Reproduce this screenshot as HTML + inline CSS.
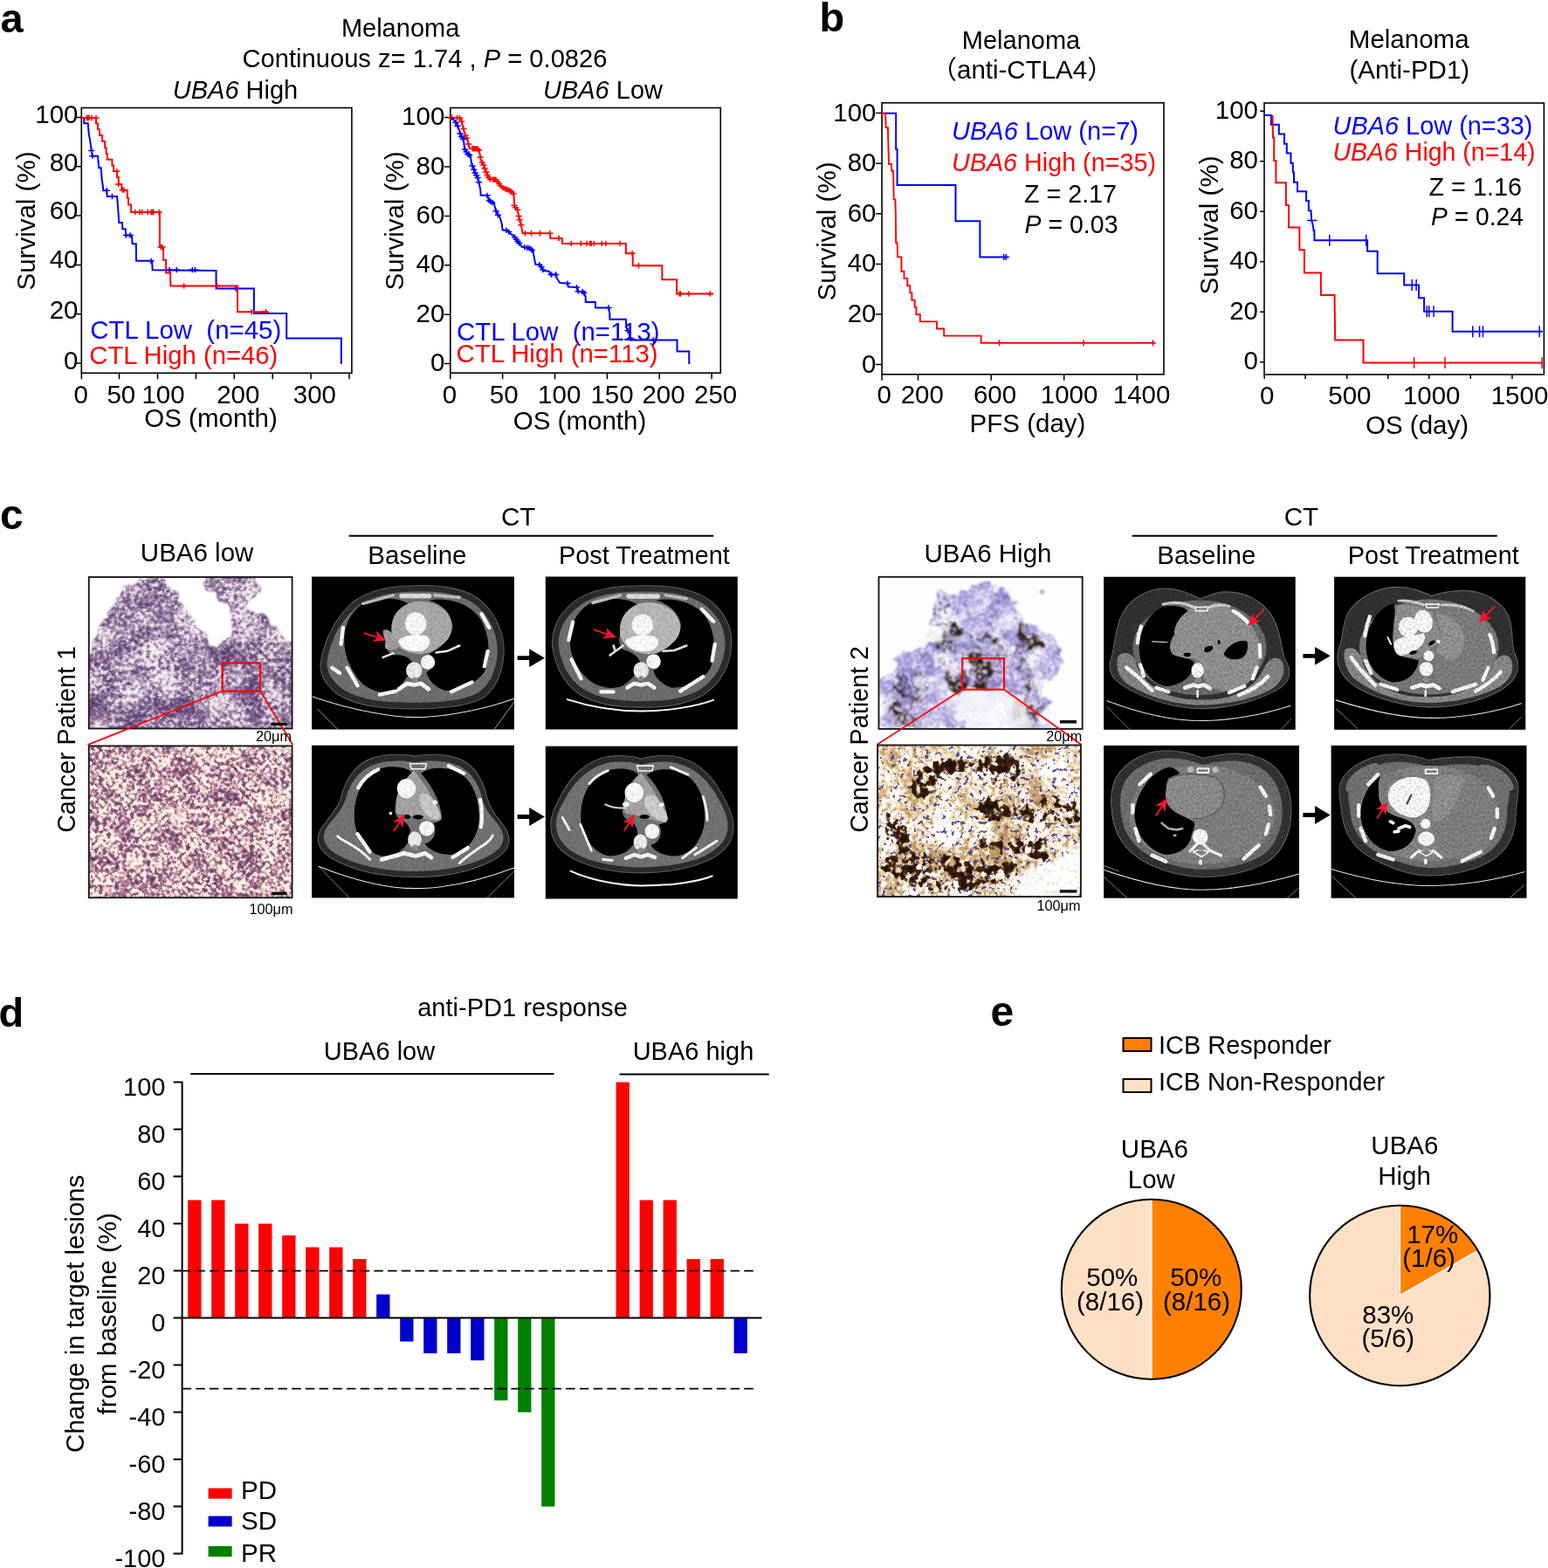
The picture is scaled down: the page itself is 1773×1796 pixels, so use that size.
<!DOCTYPE html>
<html lang="en"><head><meta charset="utf-8"><title>Figure</title>
<style>html,body{margin:0;padding:0;background:#fff}body{width:1773px;height:1796px;overflow:hidden}svg{display:block}</style>
</head><body>
<svg width="1773" height="1796" viewBox="0 0 1773 1796" font-family='"Liberation Sans", "Noto Sans CJK SC", sans-serif' font-size="29.5" fill="#000">
<text x="0.5" y="37" font-size="47" font-weight="bold">a</text>
<text x="938.5" y="35.5" font-size="47" font-weight="bold">b</text>
<text x="458.6" y="42" font-size="29" text-anchor="middle">Melanoma</text>
<text x="277.5" y="76.8" textLength="418" lengthAdjust="spacingAndGlyphs">Continuous z= 1.74 , <tspan font-style="italic">P</tspan> = 0.0826</text>
<rect x="93.3" y="123.5" width="309.6" height="303.8" fill="none" stroke="#000" stroke-width="1.6"/>
<path d="M93.4 427.3v7M136.5 427.3v7M180.5 427.3v7M224.4 427.3v7M268.3 427.3v7M312.2 427.3v7M356.1 427.3v7M400 427.3v7M93.3 134.5h-7M93.3 190.8h-7M93.3 247.1h-7M93.3 303.4h-7M93.3 359.7h-7M93.3 416h-7" stroke="#000" stroke-width="1.5" fill="none"/>
<path d="M93.12 134.97 L96.28 134.97 L96.28 141.17 L100.79 141.17 L101.69 153.35 L103.05 160.12 L104.74 172.53 L105.87 178.73 L112.07 178.73 L113.2 192.27 L115.68 192.27 L116.58 204.11 L117.71 212.01 L118.28 218.21 L122.23 218.21 L122.79 224.98 L134.07 224.98 L135.2 239.08 L136.33 254.88 L139.94 254.88 L140.27 262.21 L143.66 262.21 L144.22 269.54 L150.99 269.54 L151.55 279.13 L155.84 279.13 L156.07 298.87 L174.11 298.87 L174.68 309.25 L247.56 309.97 L247.56 330.61 L290.88 330.61 L290.88 359.04 L328.22 359.04 L328.22 387.57 L390.82 387.57 L390.82 416.9" stroke="#0000ff" stroke-width="2" fill="none" stroke-linejoin="miter"/><path d="M104.74 169.33V175.73M101.14 172.53H108.34M105.87 175.53V181.93M102.27 178.73H109.47M122.23 215.01V221.41M118.63 218.21H125.83M128.43 221.78V228.18M124.83 224.98H132.03M144.22 266.34V272.74M140.62 269.54H147.82M149.07 266.34V272.74M145.47 269.54H152.67M172.99 295.67V302.07M169.39 298.87H176.59M194.16 305.84V312.24M190.56 309.04H197.76M202.28 305.84V312.24M198.68 309.04H205.88M220.3 305.84V312.24M216.7 309.04H223.9M223.35 305.84V312.24M219.75 309.04H226.95M270.3 327.41V333.81M266.7 330.61H273.9" stroke="#0000ff" stroke-width="1.5" fill="none"/>
<path d="M93.12 134.97 L110.04 134.97 L110.04 141.51 L112.07 141.51 L112.07 148.28 L114.1 148.28 L114.1 155.05 L117.15 155.05 L117.15 161.81 L120.19 161.81 L120.19 169.15 L121.66 169.15 L121.66 175.91 L122.79 175.91 L122.79 182.68 L128.43 182.68 L128.43 189.45 L130.12 189.45 L130.12 196.22 L134.07 196.22 L134.07 202.99 L135.76 202.99 L135.76 210.88 L139.37 210.88 L139.37 217.65 L145.91 217.65 L145.91 226.68 L147.04 226.68 L147.04 234.57 L150.2 234.57 L150.2 243.03 L182.91 243.03 L182.91 283.08 L187.09 283.08 L187.09 297.74 L190.13 297.74 L190.13 312.41 L194.98 312.41 L195.43 327.56 L272.08 327.56 L272.08 357.26 L307.11 357.26" stroke="#ff0000" stroke-width="2" fill="none" stroke-linejoin="miter"/><path d="M99.33 131.77V138.17M95.73 134.97H102.93M100.79 131.77V138.17M97.19 134.97H104.39M102.15 131.77V138.17M98.55 134.97H105.75M105.08 131.77V138.17M101.48 134.97H108.68M110.04 131.77V138.17M106.44 134.97H113.64M133.73 193.02V199.42M130.13 196.22H137.33M135.76 207.68V214.08M132.16 210.88H139.36M140.27 214.45V220.85M136.67 217.65H143.87M141.97 214.45V220.85M138.37 217.65H145.57M154.71 239.83V246.23M151.11 243.03H158.31M160.01 239.83V246.23M156.41 243.03H163.61M162.61 239.83V246.23M159.01 243.03H166.21M169.04 239.83V246.23M165.44 243.03H172.64M172.99 239.83V246.23M169.39 243.03H176.59M174.45 239.83V246.23M170.85 243.03H178.05M175.81 239.83V246.23M172.21 243.03H179.41M182.01 239.83V246.23M178.41 243.03H185.61M184.27 279.88V286.28M180.67 283.08H187.87M185.96 279.88V286.28M182.36 283.08H189.56M210.66 324.36V330.76M207.06 327.56H214.26M248.73 324.36V330.76M245.13 327.56H252.33M288.07 354.06V360.46M284.47 357.26H291.67M304.57 354.06V360.46M300.97 357.26H308.17" stroke="#ff0000" stroke-width="1.5" fill="none"/>
<text x="89.5" y="140.7" text-anchor="end">100</text>
<text x="89.5" y="195.6" text-anchor="end">80</text>
<text x="89.5" y="251.4" text-anchor="end">60</text>
<text x="89.5" y="306.7" text-anchor="end">40</text>
<text x="89.5" y="365" text-anchor="end">20</text>
<text x="89.5" y="422.7" text-anchor="end">0</text>
<text x="92.6" y="461.5" text-anchor="middle">0</text>
<text x="138.8" y="461.5" text-anchor="middle">50</text>
<text x="187" y="461.5" text-anchor="middle">100</text>
<text x="272.8" y="461.5" text-anchor="middle">200</text>
<text x="360.4" y="461.5" text-anchor="middle">300</text>
<text x="241.5" y="488.6" text-anchor="middle">OS (month)</text>
<text transform="translate(40.3 253) rotate(-90)" text-anchor="middle">Survival (%)</text>
<text x="103.3" y="388.2" fill="#0000ff" textLength="219" lengthAdjust="spacingAndGlyphs">CTL Low  (n=45)</text>
<text x="102.3" y="417.4" fill="#ff0000" textLength="216" lengthAdjust="spacingAndGlyphs">CTL High (n=46)</text>
<text x="269.5" y="113" font-size="29" text-anchor="middle"><tspan font-style="italic">UBA6</tspan> High</text>
<rect x="515.8" y="123.5" width="309.5" height="303.7" fill="none" stroke="#000" stroke-width="1.6"/>
<path d="M515.8 427.2v7M575.66 427.2v7M635.52 427.2v7M695.38 427.2v7M755.24 427.2v7M815.1 427.2v7M515.8 134.6h-7M515.8 191h-7M515.8 247.4h-7M515.8 303.8h-7M515.8 360.2h-7M515.8 416.6h-7" stroke="#000" stroke-width="1.5" fill="none"/>
<path d="M515.72 134.74 L527.56 135.08 L529.25 141.17 L532.64 153.92 L535.46 160.12 L537.71 170.05 L547.87 170.5 L549.22 174.79 L550.69 183.25 L553.51 188.32 L555.76 194.53 L558.58 201.29 L560.84 205.24 L568.17 205.81 L572.68 212.01 L574.94 214.83 L583.96 218.21 L588.47 222.16 L589.04 235.14 L592.42 240.21 L594.68 249.8 L596.93 257.7 L598.63 267.28 L630.21 267.28 L630.44 272.92 L643.75 272.92 L643.97 278.56 L644.17 278.92 L716.86 278.92 L716.86 290.2 L724.75 290.2 L724.75 304.3 L758.37 304.3 L758.37 320.32 L775.18 320.32 L775.18 336.45 L816.69 336.45" stroke="#ff0000" stroke-width="2" fill="none" stroke-linejoin="miter"/><path d="M516.28 131.56V137.96M512.68 134.76H519.88M517.41 131.59V137.99M513.81 134.79H521.01M523.61 131.77V138.17M520.01 134.97H527.21M526.43 131.85V138.25M522.83 135.05H530.03M528.69 135.94V142.34M525.09 139.14H532.29M530.94 144.34V150.74M527.34 147.54H534.54M533.2 151.96V158.36M529.6 155.16H536.8M534.55 154.94V161.34M530.95 158.14H538.15M536.58 161.88V168.28M532.98 165.08H540.18M541.1 167V173.4M537.5 170.2H544.7M542.56 167.06V173.46M538.96 170.26H546.16M543.92 167.12V173.52M540.32 170.32H547.52M545.61 167.2V173.6M542.01 170.4H549.21M546.96 167.26V173.66M543.36 170.46H550.56M548.43 169.09V175.49M544.83 172.29H552.03M550.12 176.79V183.19M546.52 179.99H553.72M552.15 182.69V189.09M548.55 185.89H555.75M553.73 185.74V192.14M550.13 188.94H557.33M555.2 189.78V196.18M551.6 192.98H558.8M556.89 194.03V200.43M553.29 197.23H560.49M558.24 197.28V203.68M554.64 200.48H561.84M559.71 200.07V206.47M556.11 203.27H563.31M561.4 202.09V208.49M557.8 205.29H565M564.79 202.35V208.75M561.19 205.55H568.39M566.48 202.48V208.88M562.88 205.68H570.08M567.94 202.59V208.99M564.34 205.79H571.54M569.86 204.93V211.33M566.26 208.13H573.46M571.55 207.26V213.66M567.95 210.46H575.15M573.25 209.52V215.92M569.65 212.72H576.85M576.07 212.05V218.45M572.47 215.25H579.67M578.32 212.9V219.3M574.72 216.1H581.92M580.01 213.53V219.93M576.41 216.73H583.61M581.71 214.17V220.57M578.11 217.37H585.31M583.96 215.01V221.41M580.36 218.21H587.56M585.65 216.5V222.9M582.05 219.7H589.25M587.91 218.47V224.87M584.31 221.67H591.51M589.04 231.94V238.34M585.44 235.14H592.64M590.73 234.47V240.87M587.13 237.67H594.33M592.42 237.01V243.41M588.82 240.21H596.02M594.11 244.2V250.6M590.51 247.4H597.71M595.24 248.57V254.97M591.64 251.77H598.84M596.93 254.5V260.9M593.33 257.7H600.53M601.45 264.08V270.48M597.85 267.28H605.05M608.55 264.08V270.48M604.95 267.28H612.15M618.37 264.08V270.48M614.77 267.28H621.97M629.99 264.08V270.48M626.39 267.28H633.59M639.8 269.72V276.12M636.2 272.92H643.4M640.15 269.72V276.12M636.55 272.92H643.75M654.25 275.72V282.12M650.65 278.92H657.85M665.31 275.72V282.12M661.71 278.92H668.91M671.96 275.72V282.12M668.36 278.92H675.56M675.69 275.72V282.12M672.09 278.92H679.29M677.15 275.72V282.12M673.55 278.92H680.75M680.42 275.72V282.12M676.82 278.92H684.02M689.22 275.72V282.12M685.62 278.92H692.82M693.96 275.72V282.12M690.36 278.92H697.56M710.09 275.72V282.12M706.49 278.92H713.69M724.19 287V293.4M720.59 290.2H727.79M731.52 301.1V307.5M727.92 304.3H735.12M778.34 333.25V339.65M774.74 336.45H781.94M779.46 333.25V339.65M775.86 336.45H783.06M788.71 333.25V339.65M785.11 336.45H792.31M813.31 333.25V339.65M809.71 336.45H816.91" stroke="#ff0000" stroke-width="1.5" fill="none"/>
<path d="M515.72 134.74 L519.66 137 L523.61 142.64 L525.87 148.84 L527.56 155.05 L530.94 160.12 L532.07 170.27 L535.46 176.48 L538.84 178.17 L539.97 187.19 L542.23 192.83 L544.48 198.47 L547.3 204.11 L548.43 208.63 L550.12 216.52 L550.69 223.86 L558.02 223.86 L560.27 229.5 L565.91 233.44 L567.61 240.21 L569.3 244.72 L572.68 249.24 L574.94 257.13 L575.5 263.34 L581.71 263.9 L583.96 267.28 L588.47 270.1 L591.86 275.18 L595.24 279.13 L597.5 282.51 L606.52 284.2 L610.47 287.59 L613.29 302.82 L618.93 303.38 L622.32 310.15 L629.08 310.71 L630 314.45 L636.77 314.45 L637.9 318.96 L641.28 324.04 L650.3 324.6 L650.87 328.55 L660.46 329.11 L662.15 333.63 L668.35 334.19 L670.61 339.83 L670.83 346.03 L681.89 346.03 L681.89 352.46 L697.12 352.46 L698.25 358.44 L698.47 365.78 L716.86 365.78 L717.42 375.36 L720.24 381 L722.5 389.46 L775.52 389.46 L775.52 402.44 L789.28 402.44 L789.28 417.1" stroke="#0000ff" stroke-width="2" fill="none" stroke-linejoin="miter"/><path d="M521.92 137.02V143.42M518.32 140.22H525.52M524.18 140.99V147.39M520.58 144.19H527.78M527 149.78V156.18M523.4 152.98H530.6M528.69 153.54V159.94M525.09 156.74H532.29M530.38 156.08V162.48M526.78 159.28H533.98M532.64 168.11V174.51M529.04 171.31H536.24M534.1 170.8V177.2M530.5 174H537.7M536.02 173.56V179.96M532.42 176.76H539.62M537.71 174.41V180.81M534.11 177.61H541.31M541.1 186.81V193.21M537.5 190.01H544.7M542.79 191.04V197.44M539.19 194.24H546.39M544.26 194.71V201.11M540.66 197.91H547.86M545.61 197.53V203.93M542.01 200.73H549.21M546.96 200.24V206.64M543.36 203.44H550.56M548.43 205.43V211.83M544.83 208.63H552.03M558.02 220.66V227.06M554.42 223.86H561.62M560.27 226.3V232.7M556.67 229.5H563.87M561.97 227.48V233.88M558.37 230.68H565.57M563.66 228.66V235.06M560.06 231.86H567.26M568.17 238.52V244.92M564.57 241.72H571.77M570.43 243.03V249.43M566.83 246.23H574.03M580.01 260.55V266.95M576.41 263.75H583.61M582.83 262.39V268.79M579.23 265.59H586.43M589.6 268.6V275M586 271.8H593.2M591.29 271.13V277.53M587.69 274.33H594.89M592.99 273.3V279.7M589.39 276.5H596.59M594.68 275.27V281.67M591.08 278.47H598.28M600.88 279.95V286.35M597.28 283.15H604.48M603.7 280.48V286.88M600.1 283.68H607.3M605.96 280.9V287.3M602.36 284.1H609.56M607.65 281.97V288.37M604.05 285.17H611.25M609.34 283.42V289.82M605.74 286.62H612.94M617.8 300.07V306.47M614.2 303.27H621.4M620.06 302.44V308.84M616.46 305.64H623.66M621.75 305.82V312.22M618.15 309.02H625.35M631.34 311.25V317.65M627.74 314.45H634.94M636.42 311.25V317.65M632.82 314.45H640.02M631.69 311.25V317.65M628.09 314.45H635.29M636.77 311.25V317.65M633.17 314.45H640.37M650.08 321.39V327.79M646.48 324.59H653.68M660.46 325.91V332.31M656.86 329.11H664.06M662.15 330.43V336.83M658.55 333.63H665.75M667.23 330.89V337.29M663.63 334.09H670.83M668.92 332.4V338.8M665.32 335.6H672.52M697.12 349.26V355.66M693.52 352.46H700.72M719.11 375.55V381.95M715.51 378.75H722.71M721.93 384.15V390.55M718.33 387.35H725.53M748.44 386.26V392.66M744.84 389.46H752.04" stroke="#0000ff" stroke-width="1.5" fill="none"/>
<text x="509.3" y="143.2" text-anchor="end">100</text>
<text x="509.3" y="199.6" text-anchor="end">80</text>
<text x="509.3" y="256" text-anchor="end">60</text>
<text x="509.3" y="312.4" text-anchor="end">40</text>
<text x="509.3" y="368.8" text-anchor="end">20</text>
<text x="509.3" y="425.2" text-anchor="end">0</text>
<text x="515" y="462" text-anchor="middle">0</text>
<text x="577.2" y="462" text-anchor="middle">50</text>
<text x="640.7" y="462" text-anchor="middle">100</text>
<text x="701" y="462" text-anchor="middle">150</text>
<text x="760" y="462" text-anchor="middle">200</text>
<text x="819.6" y="462" text-anchor="middle">250</text>
<text x="664" y="491.5" text-anchor="middle">OS (month)</text>
<text transform="translate(461.5 253) rotate(-90)" text-anchor="middle">Survival (%)</text>
<text x="523" y="390.2" fill="#0000ff" textLength="232.5" lengthAdjust="spacingAndGlyphs">CTL Low  (n=113)</text>
<text x="522.6" y="414.8" fill="#ff0000" textLength="231" lengthAdjust="spacingAndGlyphs">CTL High (n=113)</text>
<text x="690.5" y="113" font-size="29" text-anchor="middle"><tspan font-style="italic">UBA6</tspan> Low</text>
<rect x="1010.1" y="117.8" width="322.9" height="311" fill="none" stroke="#000" stroke-width="1.6"/>
<path d="M1010.1 428.8v7M1051.5 428.8v7M1135.2 428.8v7M1218.7 428.8v7M1302.2 428.8v7M1010.1 129.6h-7M1010.1 187.2h-7M1010.1 244.8h-7M1010.1 302.4h-7M1010.1 360h-7M1010.1 417.6h-7" stroke="#000" stroke-width="1.5" fill="none"/>
<path d="M1010.2 129.7 L1026.2 129.7 L1026.2 170.9 L1027.6 170.9 L1027.6 212.1 L1094.5 212.1 L1094.5 253.3 L1122.4 253.3 L1122.4 294.4 L1155.7 294.4" stroke="#0000ff" stroke-width="2" fill="none" stroke-linejoin="miter"/><path d="M1149.7 290.9V297.9M1152.2 290.9V297.9" stroke="#0000ff" stroke-width="1.5" fill="none"/>
<path d="M1010.2 129.7 L1014.1 129.7 L1014.7 146.1 L1016.9 146.1 L1018 187.8 L1020.9 187.8 L1021.4 195.7 L1023.1 195.7 L1023.7 228.4 L1025.4 228.4 L1025.9 245.4 L1026.2 278.1 L1027.6 278.1 L1028.2 294.4 L1032.4 294.4 L1032.4 310.8 L1035.5 310.8 L1035.5 318.9 L1039.3 318.9 L1039.3 327.3 L1042.3 327.3 L1042.3 335.4 L1044.4 335.4 L1044.4 343.8 L1047.7 343.8 L1047.7 351.9 L1049.4 351.9 L1049.4 360.3 L1053.8 360.3 L1053.8 368.4 L1073 368.4 L1073 376.5 L1081.2 376.5 L1081.2 384.6 L1123.6 384.6 L1123.6 392.7 L1323.6 392.7" stroke="#ff0000" stroke-width="1.9" fill="none" stroke-linejoin="miter"/><path d="M1144.6 389.2V396.2M1241.1 389.2V396.2M1320.5 389.2V396.2" stroke="#ff0000" stroke-width="1.5" fill="none"/>
<text x="1003.5" y="138.5" text-anchor="end">100</text>
<text x="1003.5" y="196.1" text-anchor="end">80</text>
<text x="1003.5" y="253.7" text-anchor="end">60</text>
<text x="1003.5" y="311.3" text-anchor="end">40</text>
<text x="1003.5" y="368.9" text-anchor="end">20</text>
<text x="1003.5" y="426.5" text-anchor="end">0</text>
<text x="1012.6" y="462" text-anchor="middle">0</text>
<text x="1056.3" y="462" text-anchor="middle">200</text>
<text x="1139.5" y="462" text-anchor="middle">600</text>
<text x="1224.6" y="462" text-anchor="middle">1000</text>
<text x="1307.6" y="462" text-anchor="middle">1400</text>
<text x="1177" y="494.8" text-anchor="middle">PFS (day)</text>
<text transform="translate(956.5 265) rotate(-90)" text-anchor="middle">Survival (%)</text>
<text x="1169.5" y="56" font-size="29" text-anchor="middle">Melanoma</text>
<text x="1170.6" y="90.1" text-anchor="middle">（anti-CTLA4）</text>
<text x="1090" y="160" fill="#0000ff" textLength="214" lengthAdjust="spacingAndGlyphs"><tspan font-style="italic">UBA6</tspan> Low (n=7)</text>
<text x="1090" y="196" fill="#ff0000" textLength="234" lengthAdjust="spacingAndGlyphs"><tspan font-style="italic">UBA6</tspan> High (n=35)</text>
<text x="1173" y="231.5" textLength="106" lengthAdjust="spacingAndGlyphs">Z = 2.17</text>
<text x="1173.5" y="266.5" textLength="107" lengthAdjust="spacingAndGlyphs"><tspan font-style="italic">P</tspan> = 0.03</text>
<rect x="1448" y="118" width="320.4" height="311" fill="none" stroke="#000" stroke-width="1.6"/>
<path d="M1448.2 429v5M1495.1 429v5M1542.7 429v5M1589.8 429v5M1636.7 429v5M1684.3 429v5M1732 429v5M1448 127.2h-5M1448 184.7h-5M1448 242.2h-5M1448 299.7h-5M1448 357.2h-5M1448 414.7h-5" stroke="#000" stroke-width="1.5" fill="none"/>
<path d="M1448 132 L1455.8 132 L1455.8 142.7 L1464.8 142.7 L1464.8 153.4 L1471 153.4 L1471 164.7 L1473.8 164.7 L1473.8 175.4 L1478.4 175.4 L1478.4 186.7 L1480.8 186.7 L1480.8 197.4 L1482 197.4 L1482 208.7 L1486 208.7 L1486 219.2 L1496.1 219.2 L1496.1 230.1 L1498.9 230.1 L1498.9 241.2 L1501.5 241.2 L1502.1 252.1 L1503.7 257.8 L1504.5 264 L1505.4 264 L1505.4 275.2 L1566.1 275.2 L1566.1 287.8 L1577.7 287.8 L1577.7 313.2 L1608.2 313.2 L1608.2 326.4 L1625 326.4 L1625 341.3 L1631.1 341.3 L1631.1 356.7 L1663.6 356.7 L1663.6 379.7 L1766.9 379.7" stroke="#0000ff" stroke-width="2" fill="none" stroke-linejoin="miter"/><path d="M1522.8 268.7V281.7M1564.7 268.7V281.7M1617.2 319.9V332.9M1622.1 319.9V332.9M1634.3 350.2V363.2M1636.7 350.2V363.2M1642.1 350.2V363.2M1686.8 373.2V386.2M1694.6 373.2V386.2M1698.5 373.2V386.2M1763.2 373.2V386.2" stroke="#0000ff" stroke-width="1.5" fill="none"/>
<path d="M1497 252.5h11.5" stroke="#0000ff" stroke-width="1.5" fill="none"/>
<path d="M1457.5 132 L1458 157.4 L1459.2 157.4 L1459.2 183.9 L1461.4 183.9 L1461.4 209.3 L1472.9 209.3 L1472.9 235 L1476.1 235 L1476.1 260.6 L1488.4 260.6 L1488.4 286.3 L1493.9 286.3 L1493.9 312.5 L1512.9 312.5 L1512.9 338.1 L1528.5 338.1 L1529.2 389.4 L1561.5 389.4 L1561.5 415.6 L1766.9 415.6" stroke="#ff0000" stroke-width="2" fill="none" stroke-linejoin="miter"/><path d="M1619.6 409.1V422.1M1655 409.1V422.1M1766.2 409.1V422.1" stroke="#ff0000" stroke-width="1.5" fill="none"/>
<text x="1441" y="135.7" text-anchor="end">100</text>
<text x="1441" y="193.2" text-anchor="end">80</text>
<text x="1441" y="250.7" text-anchor="end">60</text>
<text x="1441" y="308.2" text-anchor="end">40</text>
<text x="1441" y="365.7" text-anchor="end">20</text>
<text x="1441" y="423.2" text-anchor="end">0</text>
<text x="1451.1" y="463.4" text-anchor="middle">0</text>
<text x="1545.9" y="463.4" text-anchor="middle">500</text>
<text x="1639.7" y="463.4" text-anchor="middle">1000</text>
<text x="1740.5" y="463.4" text-anchor="middle">1500</text>
<text x="1623" y="496.9" text-anchor="middle">OS (day)</text>
<text transform="translate(1394.5 258) rotate(-90)" text-anchor="middle">Survival (%)</text>
<text x="1613.7" y="55" text-anchor="middle">Melanoma</text>
<text x="1614.3" y="90.4" text-anchor="middle">(Anti-PD1)</text>
<text x="1526.5" y="153.9" fill="#0000ff" textLength="229" lengthAdjust="spacingAndGlyphs"><tspan font-style="italic">UBA6</tspan> Low (n=33)</text>
<text x="1526.5" y="184.4" fill="#ff0000" textLength="232" lengthAdjust="spacingAndGlyphs"><tspan font-style="italic">UBA6</tspan> High (n=14)</text>
<text x="1636.5" y="223.5" textLength="106.5" lengthAdjust="spacingAndGlyphs">Z = 1.16</text>
<text x="1639" y="257.7" textLength="106" lengthAdjust="spacingAndGlyphs"><tspan font-style="italic">P</tspan> = 0.24</text>
<text x="0" y="606.3" font-size="48" font-weight="bold">c</text>
<text x="225.6" y="642.6" text-anchor="middle">UBA6 low</text>
<text x="593.6" y="602.4" text-anchor="middle">CT</text>
<text x="477.9" y="646" text-anchor="middle">Baseline</text>
<text x="737.9" y="646" text-anchor="middle" textLength="196" lengthAdjust="spacingAndGlyphs">Post Treatment</text>
<text transform="translate(86.3 847) rotate(-90)" font-size="28.7" text-anchor="middle">Cancer Patient 1</text>
<text x="1131.5" y="644" text-anchor="middle">UBA6 High</text>
<text x="1490.4" y="602.4" text-anchor="middle">CT</text>
<text x="1381.8" y="646" text-anchor="middle">Baseline</text>
<text x="1641.8" y="646" text-anchor="middle" textLength="196" lengthAdjust="spacingAndGlyphs">Post Treatment</text>
<text transform="translate(993.5 847) rotate(-90)" font-size="28.7" text-anchor="middle">Cancer Patient 2</text>
<path d="M399.6 613.7H817.3M1296.7 613.7H1714.8" stroke="#000" stroke-width="2" fill="none"/>
<path d="M592.6 751.3H606.2V743.3L623.9 753.7L606.2 764.1V756.1H592.6Z" fill="#000"/>
<path d="M592.6 933.1H606.2V925.1L623.9 935.5L606.2 945.9V937.9H592.6Z" fill="#000"/>
<path d="M1492.4 748.9H1506V740.9L1523.7 751.3L1506 761.7V753.7H1492.4Z" fill="#000"/>
<path d="M1492.4 931.1H1506V923.1L1523.7 933.5L1506 943.9V935.9H1492.4Z" fill="#000"/>
<defs><clipPath id="hc1"><rect x="101.8" y="661" width="232.8" height="173.5"/></clipPath><filter id="hf1" filterUnits="userSpaceOnUse" x="101.8" y="661" width="232.8" height="173.5" color-interpolation-filters="sRGB"><feTurbulence type="fractalNoise" baseFrequency="0.22" numOctaves="3" seed="11" result="hi"/><feTurbulence type="fractalNoise" baseFrequency="0.03" numOctaves="2" seed="5" result="lo"/><feComposite in="hi" in2="lo" operator="arithmetic" k1="0" k2="0.55" k3="0.45" k4="0" result="mix"/><feColorMatrix in="mix" type="matrix" values="1.55 0 0 0 -0.28  1.55 0 0 0 -0.28  1.55 0 0 0 -0.28  0 0 0 0 1" result="g"/><feComponentTransfer in="g" result="c"><feFuncR type="table" tableValues="0.282 0.297 0.312 0.326 0.341 0.356 0.371 0.385 0.400 0.415 0.437 0.472 0.506 0.540 0.575 0.616 0.663 0.710 0.756 0.799 0.842 0.885 0.920 0.928 0.936 0.944 0.952 0.960 0.968 0.976 0.984 0.992 1.000"/><feFuncG type="table" tableValues="0.188 0.202 0.216 0.230 0.244 0.258 0.272 0.285 0.299 0.313 0.335 0.370 0.404 0.438 0.473 0.517 0.568 0.620 0.671 0.724 0.777 0.830 0.873 0.884 0.895 0.905 0.916 0.927 0.938 0.948 0.959 0.970 0.980"/><feFuncB type="table" tableValues="0.373 0.387 0.401 0.415 0.430 0.444 0.458 0.473 0.487 0.501 0.520 0.544 0.569 0.593 0.618 0.652 0.692 0.732 0.771 0.806 0.841 0.876 0.904 0.911 0.919 0.927 0.934 0.942 0.950 0.957 0.965 0.973 0.980"/></feComponentTransfer><feGaussianBlur in="c" stdDeviation="0.5" result="bl"/><feComposite in="bl" in2="SourceGraphic" operator="in"/></filter><filter id="hr1" x="-20%" y="-20%" width="140%" height="140%"><feTurbulence type="fractalNoise" baseFrequency="0.06" numOctaves="3" seed="4" result="n"/><feDisplacementMap in="SourceGraphic" in2="n" scale="16" xChannelSelector="R" yChannelSelector="G" result="d"/><feGaussianBlur in="d" stdDeviation="1"/></filter></defs><rect x="101.8" y="661" width="232.8" height="173.5" fill="#fff"/><g clip-path="url(#hc1)"><rect x="101.8" y="661" width="232.8" height="173.5" fill="#a080b0" filter="url(#hf1)"/><g filter="url(#hr1)" fill="#fff"><path d="M94.15 654.44C106.79 638.19 159.13 652.33 169.96 654.44C180.79 656.55 163.95 664.37 159.13 667.08C154.32 669.78 145.29 667.38 141.08 670.69C136.87 674 136.87 681.82 133.86 686.93C130.85 692.05 126.64 696.26 123.03 701.37C119.42 706.49 114.91 711 112.2 717.62C109.49 724.24 109.8 735.37 106.79 741.08C103.78 746.8 96.26 766.35 94.15 751.91C92.05 737.47 81.52 670.69 94.15 654.44Z"/><path d="M184.4 654.44C190.12 650.83 224.42 650.83 233.14 654.44C241.87 658.05 231.94 669.48 236.75 676.1C241.56 682.72 257.21 687.83 262.02 694.15C266.84 700.47 266.23 707.99 265.63 714.01C265.03 720.02 261.42 726.04 258.41 730.25C255.4 734.46 251.49 740.18 247.58 739.28C243.67 738.38 239.16 729.35 234.95 724.84C230.73 720.32 226.22 717.32 222.31 712.2C218.4 707.09 215.39 700.17 211.48 694.15C207.57 688.13 203.36 682.72 198.84 676.1C194.33 669.48 178.69 658.05 184.4 654.44Z"/><path d="M289.1 654.44C297.52 650.83 337.23 640.3 346.86 654.44C356.49 668.58 349.87 726.04 346.86 739.28C343.85 752.52 334.83 738.38 328.81 733.86C322.79 729.35 316.77 717.32 310.76 712.2C304.74 707.09 297.22 706.19 292.71 703.18C288.19 700.17 283.08 698.66 283.68 694.15C284.28 689.64 295.42 682.72 296.32 676.1C297.22 669.48 280.67 658.05 289.1 654.44Z"/></g></g><rect x="101.8" y="661" width="232.8" height="173.5" fill="none" stroke="#1a1a1a" stroke-width="1.9"/><rect x="254.6" y="759.3" width="43.5" height="32.3" fill="none" stroke="#f00" stroke-width="2.1"/><path d="M254.6 791.6L100.5 853.2M298.1 791.6L335.4 853.2" stroke="#f00" stroke-width="1.8" fill="none"/><rect x="310.2" y="827.7" width="18.6" height="3.4" fill="#111"/><text x="334" y="848.5" font-size="16.3" text-anchor="end">20μm</text>
<defs><clipPath id="hc2"><rect x="101.8" y="854.4" width="232.8" height="173.8"/></clipPath><filter id="hf2" filterUnits="userSpaceOnUse" x="101.8" y="854.4" width="232.8" height="173.8" color-interpolation-filters="sRGB"><feTurbulence type="fractalNoise" baseFrequency="0.22" numOctaves="2" seed="21" result="hi"/><feTurbulence type="fractalNoise" baseFrequency="0.04" numOctaves="2" seed="9" result="lo"/><feComposite in="hi" in2="lo" operator="arithmetic" k1="0" k2="0.7" k3="0.3" k4="0" result="mix"/><feColorMatrix in="mix" type="matrix" values="1.8 0 0 0 -0.4  1.8 0 0 0 -0.4  1.8 0 0 0 -0.4  0 0 0 0 1" result="g"/><feComponentTransfer in="g" result="c"><feFuncR type="table" tableValues="0.333 0.354 0.374 0.395 0.415 0.435 0.456 0.476 0.497 0.517 0.544 0.582 0.620 0.657 0.695 0.748 0.802 0.855 0.895 0.930 0.964 0.981 0.983 0.985 0.986 0.988 0.990 0.991 0.993 0.995 0.997 0.998 1.000"/><feFuncG type="table" tableValues="0.196 0.212 0.229 0.245 0.261 0.278 0.294 0.310 0.327 0.343 0.368 0.404 0.441 0.478 0.515 0.579 0.645 0.711 0.774 0.835 0.896 0.928 0.933 0.938 0.942 0.947 0.952 0.957 0.961 0.966 0.971 0.976 0.980"/><feFuncB type="table" tableValues="0.333 0.350 0.366 0.382 0.399 0.415 0.431 0.448 0.464 0.480 0.501 0.527 0.553 0.579 0.606 0.647 0.690 0.733 0.773 0.813 0.852 0.874 0.880 0.886 0.892 0.898 0.904 0.911 0.917 0.923 0.929 0.935 0.941"/></feComponentTransfer><feGaussianBlur in="c" stdDeviation="0.5" result="bl"/><feComposite in="bl" in2="SourceGraphic" operator="in"/></filter></defs><rect x="101.8" y="854.4" width="232.8" height="173.8" fill="#c8a8c0" filter="url(#hf2)"/><rect x="101.8" y="854.4" width="232.8" height="173.8" fill="none" stroke="#1a1a1a" stroke-width="1.9"/><rect x="310.8" y="1021.7" width="18" height="3.4" fill="#111"/><text x="335.5" y="1047.2" font-size="16.3" text-anchor="end">100μm</text>
<defs><clipPath id="hc3"><rect x="1006.5" y="660.8" width="233.2" height="174.1"/></clipPath><filter id="hf3" filterUnits="userSpaceOnUse" x="1006.5" y="660.8" width="233.2" height="174.1" color-interpolation-filters="sRGB"><feTurbulence type="fractalNoise" baseFrequency="0.3" numOctaves="3" seed="31" result="hi"/><feTurbulence type="fractalNoise" baseFrequency="0.04" numOctaves="2" seed="2" result="lo"/><feComposite in="hi" in2="lo" operator="arithmetic" k1="0" k2="0.6" k3="0.4" k4="0" result="mix"/><feColorMatrix in="mix" type="matrix" values="1.6 0 0 0 -0.3  1.6 0 0 0 -0.3  1.6 0 0 0 -0.3  0 0 0 0 1" result="g"/><feComponentTransfer in="g" result="c"><feFuncR type="table" tableValues="0.353 0.374 0.395 0.416 0.437 0.458 0.479 0.500 0.521 0.542 0.563 0.584 0.618 0.656 0.693 0.731 0.769 0.805 0.842 0.879 0.913 0.935 0.957 0.978 1.000 1.000 1.000 1.000 1.000 1.000 1.000 1.000 1.000"/><feFuncG type="table" tableValues="0.314 0.335 0.356 0.377 0.398 0.419 0.440 0.461 0.482 0.503 0.524 0.545 0.580 0.620 0.659 0.698 0.737 0.778 0.819 0.860 0.898 0.924 0.949 0.975 1.000 1.000 1.000 1.000 1.000 1.000 1.000 1.000 1.000"/><feFuncB type="table" tableValues="0.627 0.645 0.662 0.680 0.697 0.715 0.732 0.750 0.768 0.785 0.803 0.820 0.838 0.856 0.874 0.892 0.910 0.923 0.936 0.950 0.962 0.972 0.981 0.991 1.000 1.000 1.000 1.000 1.000 1.000 1.000 1.000 1.000"/></feComponentTransfer><feGaussianBlur in="c" stdDeviation="0.4" result="bl"/><feComposite in="bl" in2="SourceGraphic" operator="in"/></filter><filter id="hf3b" filterUnits="userSpaceOnUse" x="1006.5" y="660.8" width="233.2" height="174.1" color-interpolation-filters="sRGB"><feTurbulence type="fractalNoise" baseFrequency="0.22" numOctaves="3" seed="41" result="hi"/><feTurbulence type="fractalNoise" baseFrequency="0.035" numOctaves="2" seed="12" result="lo"/><feComposite in="hi" in2="lo" operator="arithmetic" k1="0" k2="0.5" k3="0.5" k4="0" result="mix"/><feColorMatrix in="mix" type="matrix" values="1.8 0 0 0 -0.4  1.8 0 0 0 -0.4  1.8 0 0 0 -0.4  0 0 0 0 1" result="g"/><feComponentTransfer in="g" result="c"><feFuncR type="table" tableValues="0.157 0.164 0.172 0.179 0.186 0.194 0.201 0.208 0.216 0.223 0.230 0.238 0.245 0.252 0.260 0.267 0.275 0.287 0.299 0.311 0.324 0.336 0.348 0.360 0.373 0.385 0.397 0.409 0.422 0.434 0.446 0.458 0.471"/><feFuncG type="table" tableValues="0.086 0.091 0.096 0.101 0.106 0.111 0.116 0.121 0.125 0.130 0.135 0.140 0.145 0.150 0.155 0.160 0.165 0.174 0.183 0.193 0.202 0.211 0.221 0.230 0.239 0.249 0.258 0.267 0.276 0.286 0.295 0.304 0.314"/><feFuncB type="table" tableValues="0.047 0.050 0.053 0.057 0.060 0.063 0.066 0.069 0.073 0.076 0.079 0.082 0.085 0.088 0.092 0.095 0.098 0.104 0.110 0.116 0.123 0.129 0.135 0.141 0.147 0.153 0.159 0.165 0.172 0.178 0.184 0.190 0.196"/></feComponentTransfer><feColorMatrix in="g" type="matrix" values="0 0 0 0 0  0 0 0 0 0  0 0 0 0 0  1 0 0 0 0" result="ga"/><feComponentTransfer in="ga" result="a"><feFuncA type="table" tableValues="1.000 1.000 1.000 1.000 1.000 1.000 1.000 1.000 1.000 1.000 1.000 1.000 1.000 1.000 0.607 0.161 0.000 0.000 0.000 0.000 0.000 0.000 0.000 0.000 0.000 0.000 0.000 0.000 0.000 0.000 0.000 0.000 0.000"/></feComponentTransfer><feComposite in="c" in2="a" operator="in" result="c2"/><feGaussianBlur in="c2" stdDeviation="0.4" result="bl"/><feComposite in="bl" in2="SourceGraphic" operator="in"/></filter><filter id="hr3" x="-20%" y="-20%" width="140%" height="140%"><feTurbulence type="fractalNoise" baseFrequency="0.07" numOctaves="3" seed="8" result="n"/><feDisplacementMap in="SourceGraphic" in2="n" scale="22" xChannelSelector="R" yChannelSelector="G" result="d"/><feGaussianBlur in="d" stdDeviation="1"/></filter><clipPath id="hc3t"><path d="M1007.76 836.75C978.58 829.53 1007.76 805.16 1009.57 793.43C1011.37 781.7 1015.28 773.57 1018.59 766.35C1021.9 759.13 1025.21 754.32 1029.42 750.11C1033.63 745.9 1038.45 743.79 1043.86 741.08C1049.28 738.38 1057.7 737.47 1061.91 733.86C1066.13 730.25 1068.53 723.63 1069.13 719.42C1069.74 715.21 1064.32 714.91 1065.52 708.59C1066.73 702.27 1070.94 686.93 1076.35 681.52C1081.77 676.1 1092 677.91 1098.01 676.1C1104.03 674.3 1106.74 672.19 1112.45 670.69C1118.17 669.18 1124.79 664.67 1132.31 667.08C1139.83 669.48 1150.36 677.61 1157.58 685.13C1164.8 692.65 1169.61 706.19 1175.63 712.2C1181.65 718.22 1186.76 715.81 1193.68 721.23C1200.6 726.64 1214.14 736.57 1217.15 744.69C1220.16 752.82 1215.34 764.55 1211.73 769.96C1208.12 775.38 1197.59 771.77 1195.49 777.18C1193.38 782.6 1199.4 795.23 1199.1 802.45C1198.8 809.68 1196.09 814.79 1193.68 820.51C1191.28 826.22 1215.64 834.04 1184.66 836.75C1153.67 839.46 1036.94 843.97 1007.76 836.75Z"/></clipPath></defs><rect x="1006.5" y="660.8" width="233.2" height="174.1" fill="#fefefe"/><g clip-path="url(#hc3)"><g filter="url(#hr3)"><g clip-path="url(#hc3t)"><rect x="1006.5" y="660.8" width="233.2" height="174.1" fill="#b0a8d8" filter="url(#hf3)"/><g filter="url(#hf3b)"><path d="M1061.91 715.81C1063.72 709.19 1072.14 694.15 1076.35 690.54C1080.57 686.93 1084.78 689.94 1087.18 694.15C1089.59 698.36 1086.58 710.4 1090.79 715.81C1095.01 721.23 1104.33 724.24 1112.45 726.64C1120.58 729.05 1133.51 726.64 1139.53 730.25C1145.55 733.86 1146.15 739.28 1148.56 748.3C1150.96 757.33 1159.99 777.48 1153.97 784.4C1147.95 791.32 1123.59 789.22 1112.45 789.82C1101.32 790.42 1093.2 794.93 1087.18 788.01C1081.17 781.1 1079.96 757.93 1076.35 748.3C1072.74 738.68 1067.93 735.67 1065.52 730.25C1063.12 724.84 1060.11 722.43 1061.91 715.81Z" fill="#402010"/><path d="M1018.59 813.29C1020.1 802.45 1025.81 773.57 1031.23 766.35C1036.64 759.13 1045.37 766.96 1051.08 769.96C1056.8 772.97 1063.72 778.99 1065.52 784.4C1067.33 789.82 1064.32 794.63 1061.91 802.45C1059.51 810.28 1057.7 826.52 1051.08 831.34C1044.46 836.15 1027.62 834.34 1022.2 831.34C1016.79 828.33 1017.09 824.12 1018.59 813.29Z" fill="#402010"/><path d="M1166.61 715.81C1170.82 710.7 1183.75 713.41 1188.27 717.62C1192.78 721.83 1195.79 735.37 1193.68 741.08C1191.58 746.8 1176.23 742.29 1175.63 751.91C1175.03 761.54 1186.16 787.41 1190.07 798.84C1193.98 810.28 1203.01 815.09 1199.1 820.51C1195.19 825.92 1173.23 832.54 1166.61 831.34C1159.99 830.13 1158.48 821.11 1159.39 813.29C1160.29 805.46 1171.42 795.23 1172.02 784.4C1172.62 773.57 1163.9 759.74 1163 748.3C1162.09 736.87 1162.39 720.93 1166.61 715.81Z" fill="#402010"/></g><path d="M1101.62 795.23C1107.64 791.32 1121.18 790.12 1130.51 789.82C1139.83 789.52 1150.06 791.32 1157.58 793.43C1165.1 795.54 1172.92 795.54 1175.63 802.45C1178.34 809.37 1184.36 829.53 1173.83 834.95C1163.3 840.36 1125.69 838.56 1112.45 834.95C1099.22 831.34 1096.21 819.9 1094.4 813.29C1092.6 806.67 1095.61 799.15 1101.62 795.23Z" fill="#fff" opacity="0.8"/><path d="M1029.42 733.86C1032.73 729.35 1043.26 721.83 1051.08 719.42C1058.9 717.02 1073.95 716.41 1076.35 719.42C1078.76 722.43 1070.94 732.96 1065.52 737.47C1060.11 741.99 1049.58 744.99 1043.86 746.5C1038.15 748 1033.63 748.6 1031.23 746.5C1028.82 744.39 1026.11 738.38 1029.42 733.86Z" fill="#fff" opacity="0.9"/></g></g><ellipse cx="1193.68" cy="677.91" rx="3.2" ry="3" fill="#c8c4e6"/></g><rect x="1006.5" y="660.8" width="233.2" height="174.1" fill="none" stroke="#1a1a1a" stroke-width="1.9"/><rect x="1102.2" y="754.2" width="47.8" height="35.6" fill="none" stroke="#f00" stroke-width="2.1"/><path d="M1102.2 789.8L1004.4 853M1150 789.8L1238.6 853" stroke="#f00" stroke-width="1.8" fill="none"/><rect x="1213.9" y="825" width="19.1" height="3.6" fill="#111"/><text x="1239.3" y="848.5" font-size="16.3" text-anchor="end">20μm</text>
<defs><clipPath id="hc4"><rect x="1005.1" y="853.5" width="232.8" height="173.6"/></clipPath><filter id="hf4" filterUnits="userSpaceOnUse" x="1005.1" y="853.5" width="232.8" height="173.6" color-interpolation-filters="sRGB"><feTurbulence type="fractalNoise" baseFrequency="0.2" numOctaves="3" seed="51" result="hi"/><feTurbulence type="fractalNoise" baseFrequency="0.03" numOctaves="2" seed="14" result="lo"/><feComposite in="hi" in2="lo" operator="arithmetic" k1="0" k2="0.5" k3="0.5" k4="0" result="mix"/><feColorMatrix in="mix" type="matrix" values="1.7 0 0 0 -0.35  1.7 0 0 0 -0.35  1.7 0 0 0 -0.35  0 0 0 0 1" result="g"/><feComponentTransfer in="g" result="c"><feFuncR type="table" tableValues="0.667 0.681 0.696 0.711 0.725 0.740 0.755 0.770 0.784 0.799 0.814 0.828 0.853 0.879 0.906 0.932 0.948 0.964 0.980 0.990 0.993 0.996 0.999 1.000 1.000 1.000 1.000 1.000 1.000 1.000 1.000 1.000 1.000"/><feFuncG type="table" tableValues="0.510 0.526 0.542 0.558 0.574 0.590 0.606 0.623 0.639 0.655 0.671 0.687 0.726 0.771 0.816 0.861 0.891 0.920 0.948 0.969 0.978 0.987 0.996 1.000 1.000 1.000 1.000 1.000 1.000 1.000 1.000 1.000 1.000"/><feFuncB type="table" tableValues="0.314 0.330 0.346 0.362 0.378 0.394 0.410 0.426 0.443 0.459 0.475 0.491 0.545 0.608 0.671 0.735 0.786 0.838 0.889 0.927 0.949 0.970 0.991 1.000 1.000 1.000 1.000 1.000 1.000 1.000 1.000 1.000 1.000"/></feComponentTransfer><feGaussianBlur in="c" stdDeviation="0.5" result="bl"/><feComposite in="bl" in2="SourceGraphic" operator="in"/></filter><filter id="hf4b" filterUnits="userSpaceOnUse" x="1005.1" y="853.5" width="232.8" height="173.6" color-interpolation-filters="sRGB"><feGaussianBlur in="SourceAlpha" stdDeviation="4.5" result="m0"/><feColorMatrix in="m0" type="matrix" values="0 0 0 -1 1  0 0 0 -1 1  0 0 0 -1 1  0 0 0 0 1" result="m"/><feTurbulence type="fractalNoise" baseFrequency="0.14" numOctaves="2" seed="61" result="hi"/><feTurbulence type="fractalNoise" baseFrequency="0.035" numOctaves="2" seed="17" result="lo"/><feComposite in="hi" in2="lo" operator="arithmetic" k1="0" k2="0.6" k3="0.4" k4="0" result="mix"/><feColorMatrix in="mix" type="matrix" values="1 0 0 0 0  1 0 0 0 0  1 0 0 0 0  0 0 0 0 1" result="g"/><feComposite in="g" in2="m" operator="arithmetic" k1="0" k2="1" k3="0.33" k4="-0.13" result="t"/><feComponentTransfer in="t" result="c"><feFuncR type="table" tableValues="0.059 0.072 0.085 0.098 0.111 0.124 0.138 0.151 0.164 0.179 0.235 0.291 0.347 0.394 0.404 0.415 0.425 0.435 0.445 0.455 0.466 0.476 0.486 0.496 0.507 0.517 0.527 0.537 0.547 0.558 0.568 0.578 0.588"/><feFuncG type="table" tableValues="0.031 0.038 0.045 0.052 0.059 0.066 0.073 0.080 0.087 0.096 0.134 0.173 0.212 0.245 0.252 0.260 0.268 0.276 0.283 0.291 0.299 0.307 0.315 0.322 0.330 0.338 0.346 0.353 0.361 0.369 0.377 0.384 0.392"/><feFuncB type="table" tableValues="0.020 0.023 0.026 0.029 0.032 0.035 0.038 0.041 0.044 0.048 0.066 0.085 0.103 0.119 0.125 0.131 0.137 0.143 0.150 0.156 0.162 0.168 0.174 0.180 0.186 0.192 0.199 0.205 0.211 0.217 0.223 0.229 0.235"/></feComponentTransfer><feColorMatrix in="t" type="matrix" values="0 0 0 0 0  0 0 0 0 0  0 0 0 0 0  1 0 0 0 0" result="ta"/><feComponentTransfer in="ta" result="a"><feFuncA type="table" tableValues="1.000 1.000 1.000 1.000 1.000 1.000 1.000 1.000 1.000 1.000 1.000 1.000 0.583 0.062 0.000 0.000 0.000 0.000 0.000 0.000 0.000 0.000 0.000 0.000 0.000 0.000 0.000 0.000 0.000 0.000 0.000 0.000 0.000"/></feComponentTransfer><feComposite in="c" in2="a" operator="in" result="c2"/><feGaussianBlur in="c2" stdDeviation="0.5"/></filter><filter id="hf4c" filterUnits="userSpaceOnUse" x="1005.1" y="853.5" width="232.8" height="173.6" color-interpolation-filters="sRGB"><feTurbulence type="fractalNoise" baseFrequency="0.2" numOctaves="2" seed="71" result="hi"/><feColorMatrix in="hi" type="matrix" values="1.9 0 0 0 -0.45  1.9 0 0 0 -0.45  1.9 0 0 0 -0.45  0 0 0 0 1" result="g"/><feComponentTransfer in="g" result="c"><feFuncR type="table" tableValues="0.235 0.243 0.250 0.257 0.265 0.272 0.279 0.287 0.294 0.301 0.309 0.316 0.324 0.331 0.338 0.346 0.353 0.360 0.368 0.375 0.382 0.390 0.397 0.404 0.412 0.419 0.426 0.434 0.441 0.449 0.456 0.463 0.471"/><feFuncG type="table" tableValues="0.196 0.203 0.211 0.218 0.225 0.233 0.240 0.248 0.255 0.262 0.270 0.277 0.284 0.292 0.299 0.306 0.314 0.321 0.328 0.336 0.343 0.350 0.358 0.365 0.373 0.380 0.387 0.395 0.402 0.409 0.417 0.424 0.431"/><feFuncB type="table" tableValues="0.510 0.517 0.525 0.532 0.539 0.547 0.554 0.561 0.569 0.576 0.583 0.591 0.598 0.605 0.613 0.620 0.627 0.635 0.642 0.650 0.657 0.664 0.672 0.679 0.686 0.694 0.701 0.708 0.716 0.723 0.730 0.738 0.745"/></feComponentTransfer><feColorMatrix in="g" type="matrix" values="0 0 0 0 0  0 0 0 0 0  0 0 0 0 0  1 0 0 0 0" result="ga"/><feComponentTransfer in="ga" result="a"><feFuncA type="table" tableValues="0.800 0.800 0.800 0.800 0.800 0.800 0.800 0.417 0.000 0.000 0.000 0.000 0.000 0.000 0.000 0.000 0.000 0.000 0.000 0.000 0.000 0.000 0.000 0.000 0.000 0.000 0.000 0.000 0.000 0.000 0.000 0.000 0.000"/></feComponentTransfer><feComposite in="c" in2="a" operator="in" result="c2"/><feGaussianBlur in="c2" stdDeviation="0.5" result="bl"/><feComposite in="bl" in2="SourceGraphic" operator="in"/></filter></defs><g clip-path="url(#hc4)"><rect x="1005.1" y="853.5" width="232.8" height="173.6" fill="#e0d0b8" filter="url(#hf4)"/><rect x="1005.1" y="853.5" width="232.8" height="173.6" fill="#6060a0" filter="url(#hf4c)"/><g filter="url(#hf4b)" fill="#301808"><path d="M1040.25 884.15C1043.86 877.53 1053.49 874.52 1065.52 871.52C1077.56 868.51 1095.61 867.61 1112.45 866.1C1129.3 864.6 1156.08 859.48 1166.61 862.49C1177.14 865.5 1175.63 876.93 1175.63 884.15C1175.63 891.37 1172.62 902.8 1166.61 905.81C1160.59 908.82 1148.56 905.81 1139.53 902.2C1130.51 898.59 1122.98 884.75 1112.45 884.15C1101.93 883.55 1085.38 891.97 1076.35 898.59C1067.33 905.21 1063.72 921.76 1058.3 923.86C1052.89 925.97 1046.87 917.85 1043.86 911.23C1040.85 904.61 1036.64 890.77 1040.25 884.15Z"/><path d="M1112.45 916.64C1116.37 913.63 1130.51 912.43 1139.53 913.03C1148.56 913.63 1156.08 920.85 1166.61 920.25C1177.14 919.65 1191.28 909.42 1202.71 909.42C1214.14 909.42 1229.18 914.24 1235.2 920.25C1241.22 926.27 1244.22 940.71 1238.81 945.52C1233.39 950.34 1214.74 949.74 1202.71 949.13C1190.67 948.53 1178.64 943.12 1166.61 941.91C1154.57 940.71 1138.93 943.72 1130.51 941.91C1122.08 940.11 1119.07 935.29 1116.06 931.08C1113.06 926.87 1108.54 919.65 1112.45 916.64Z"/><path d="M1007.76 978.01C1014.68 974.1 1036.64 974.1 1051.08 974.4C1065.52 974.71 1081.17 978.01 1094.4 979.82C1107.64 981.62 1118.47 983.73 1130.51 985.23C1142.54 986.74 1161.19 985.23 1166.61 988.84C1172.02 992.45 1172.02 1001.48 1163 1006.9C1153.97 1012.31 1126.9 1018.63 1112.45 1021.34C1098.01 1024.04 1089.89 1024.95 1076.35 1023.14C1062.82 1021.34 1042.36 1014.72 1031.23 1010.51C1020.1 1006.29 1013.48 1003.29 1009.57 997.87C1005.66 992.45 1000.84 981.93 1007.76 978.01Z"/><path d="M1004.15 931.08C1006.86 926.87 1019.19 926.87 1025.81 931.08C1032.43 935.29 1041.46 949.13 1043.86 956.35C1046.27 963.57 1043.26 972 1040.25 974.4C1037.24 976.81 1030.93 973.8 1025.81 970.79C1020.7 967.79 1013.18 962.97 1009.57 956.35C1005.96 949.74 1001.44 935.29 1004.15 931.08Z"/><path d="M1116.06 959.96C1126.59 957.26 1169.01 953.95 1184.66 956.35C1200.3 958.76 1206.92 969.29 1209.93 974.4C1212.94 979.52 1209.93 985.84 1202.71 987.04C1195.49 988.24 1180.14 984.03 1166.61 981.62C1153.07 979.22 1129.9 976.21 1121.48 972.6C1113.06 968.99 1105.54 962.67 1116.06 959.96Z"/></g><path d="M1175.63 999.68C1183.15 992.45 1201.2 990.05 1211.73 985.23C1222.26 980.42 1234.3 963.57 1238.81 970.79C1243.32 978.01 1250.84 1018.93 1238.81 1028.56C1226.77 1038.18 1177.14 1033.37 1166.61 1028.56C1156.08 1023.74 1168.11 1006.9 1175.63 999.68Z" fill="#fff" opacity="0.85" filter="url(#hr3)"/></g><rect x="1005.1" y="853.5" width="232.8" height="173.6" fill="none" stroke="#1a1a1a" stroke-width="1.9"/><rect x="1213.9" y="1019.2" width="19.5" height="3.4" fill="#111"/><text x="1237.5" y="1043" font-size="16.3" text-anchor="end">100μm</text>
<defs><filter id="ctb" x="-5%" y="-5%" width="110%" height="110%" color-interpolation-filters="sRGB"><feGaussianBlur stdDeviation="5" result="b"/><feTurbulence type="fractalNoise" baseFrequency="0.05" numOctaves="2" seed="3" result="n"/><feColorMatrix in="n" type="matrix" values="1 0 0 0 0  1 0 0 0 0  1 0 0 0 0  0 0 0 0 1" result="n2"/><feComposite in="b" in2="n2" operator="arithmetic" k1="0.26" k2="0.87" k3="0" k4="0"/></filter><filter id="ctg" x="-5%" y="-5%" width="110%" height="110%" color-interpolation-filters="sRGB"><feGaussianBlur stdDeviation="5" result="b"/><feTurbulence type="fractalNoise" baseFrequency="0.06" numOctaves="2" seed="7" result="n"/><feColorMatrix in="n" type="matrix" values="1 0 0 0 0  1 0 0 0 0  1 0 0 0 0  0 0 0 0 1" result="n2"/><feComposite in="b" in2="n2" operator="arithmetic" k1="0.5" k2="0.75" k3="0" k4="0" result="g"/><feGaussianBlur in="g" stdDeviation="3"/></filter></defs>
<clipPath id="cc1"><rect x="357.1" y="660.5" width="231.9" height="175"/></clipPath><rect x="357.1" y="660.5" width="231.9" height="175" fill="#000"/><g clip-path="url(#cc1)"><g transform="translate(340 640) scale(0.15793)" filter="url(#ctb)"><path d="M840 195C1000 188 1200 200 1330 300C1450 400 1512 560 1500 700C1490 830 1440 960 1330 1020C1200 1082 1000 1088 840 1088C680 1088 450 1082 300 985C195 905 160 820 175 740C200 600 260 450 400 320C520 222 700 198 840 195Z" fill="#2a2a2a" stroke="#5c5c5c" stroke-width="7"/><path d="M840 195C1000 188 1200 200 1330 300C1450 400 1512 560 1500 700C1490 830 1440 960 1330 1020C1200 1082 1000 1088 840 1088C680 1088 450 1082 300 985C195 905 160 820 175 740C200 600 260 450 400 320C520 222 700 198 840 195Z" fill="#6c6c6c" transform="translate(840 640) scale(0.93 0.9) translate(-840 -640)"/><path d="M560 290C680 275 790 300 820 340C740 380 690 450 690 540C640 600 640 680 700 700C780 690 840 720 850 790C800 850 760 920 720 960C640 990 540 960 470 900C380 800 335 680 345 560C355 430 440 320 560 290Z" fill="#000"/><path d="M960 300C1080 280 1230 310 1320 420C1400 540 1410 700 1360 820C1300 910 1180 960 1070 955C1000 930 950 880 940 820C1000 800 1010 720 960 690C1020 660 1110 600 1130 490C1120 390 1050 330 960 300Z" fill="#000"/><path d="M690 560C670 440 720 360 820 320C900 300 1000 310 1070 370C1140 440 1140 540 1080 600C1030 650 960 690 900 690C820 690 720 660 690 560Z" fill="#a6a6a6"/><ellipse cx="862" cy="470" rx="78" ry="82" fill="#f4f4f4"/><path d="M735 600C760 550 880 540 940 560C980 590 970 650 900 670C820 680 760 660 735 600Z" fill="#fafafa"/><path d="M625 520C660 500 700 540 720 590C750 620 750 650 700 660C660 670 630 650 640 620C650 590 620 560 625 520Z" fill="#9a9a9a"/><path d="M625 715L700 685M1010 680L1090 670L1180 630" fill="none" stroke="#e8e8e8" stroke-width="16" stroke-linecap="round" stroke-linejoin="round"/><ellipse cx="950" cy="750" rx="52" ry="52" fill="#f4f4f4"/><ellipse cx="850" cy="810" rx="58" ry="62" fill="#e6e6e6"/><path d="M740 945L800 905L850 915L900 905L955 945" fill="none" stroke="#f4f4f4" stroke-width="30" stroke-linecap="round" stroke-linejoin="round"/><ellipse cx="855" cy="880" rx="20" ry="20" fill="#8a8a8a"/><path d="M335 500L320 620M365 790L440 920M600 985L720 960M255 790L310 830M1340 400L1395 500M1385 670L1360 780M1120 965L1270 895" fill="none" stroke="#f4f4f4" stroke-width="27" stroke-linecap="round" stroke-linejoin="round"/><path d="M480 325L700 265M1000 265L1180 280" fill="none" stroke="#bcbcbc" stroke-width="22" stroke-linecap="round" stroke-linejoin="round"/><path d="M760 270L960 270" fill="none" stroke="#d8d8d8" stroke-width="34" stroke-linecap="round" stroke-linejoin="round"/><path d="M115 1000C400 1100 700 1150 860 1150C1100 1150 1400 1080 1575 1015" fill="none" stroke="#e0e0e0" stroke-width="7" stroke-linecap="round" stroke-linejoin="round"/><path d="M150 1090L300 1240M1575 1040L1430 1240" fill="none" stroke="#c8c8c8" stroke-width="5" stroke-linecap="round" stroke-linejoin="round"/><path d="M492 540L585.03 570.62" stroke="#f0182c" stroke-width="12" stroke-linecap="round" fill="none"/><path d="M650 592L546.63 602.2L585.03 570.62L572.89 522.41Z" fill="#f0182c"/></g></g>
<clipPath id="cc2"><rect x="624.8" y="660.5" width="220" height="175"/></clipPath><rect x="624.8" y="660.5" width="220" height="175" fill="#000"/><g clip-path="url(#cc2)"><g transform="translate(600 640) scale(0.15793)" filter="url(#ctb)"><path d="M850 195C1050 190 1250 215 1370 320C1470 410 1510 520 1505 620C1500 760 1440 900 1300 990C1150 1070 1000 1078 850 1078C700 1078 520 1060 400 980C280 900 210 740 205 600C210 480 270 380 380 300C500 215 680 195 850 195Z" fill="#2a2a2a" stroke="#5c5c5c" stroke-width="7"/><path d="M850 195C1050 190 1250 215 1370 320C1470 410 1510 520 1505 620C1500 760 1440 900 1300 990C1150 1070 1000 1078 850 1078C700 1078 520 1060 400 980C280 900 210 740 205 600C210 480 270 380 380 300C500 215 680 195 850 195Z" fill="#6c6c6c" transform="translate(855 635) scale(0.93 0.9) translate(-855 -635)"/><path d="M560 295C680 280 790 300 830 340C750 390 700 450 700 540C680 600 700 640 720 660C800 680 850 720 850 790C800 850 760 900 700 930C620 950 520 930 450 860C360 770 325 660 335 550C350 420 440 320 560 295Z" fill="#000"/><path d="M960 300C1080 280 1230 310 1310 410C1390 520 1400 680 1350 800C1290 890 1180 940 1070 935C1000 910 950 860 940 810C1000 790 1010 720 960 690C1030 660 1120 600 1140 490C1130 390 1050 330 960 300Z" fill="#000"/><path d="M700 560C680 440 740 360 840 325C920 305 1010 320 1080 380C1150 450 1150 540 1090 600C1040 650 970 690 910 690C830 690 730 660 700 560Z" fill="#b4b4b4"/><ellipse cx="860" cy="480" rx="78" ry="78" fill="#f4f4f4"/><path d="M735 600C770 550 890 545 950 565C990 595 980 650 910 670C830 680 760 660 735 600Z" fill="#fafafa"/><path d="M625 700L720 630M650 630L660 660M1010 670L1090 665L1180 630" fill="none" stroke="#e0e0e0" stroke-width="16" stroke-linecap="round" stroke-linejoin="round"/><ellipse cx="940" cy="745" rx="52" ry="52" fill="#f4f4f4"/><ellipse cx="850" cy="810" rx="55" ry="62" fill="#e6e6e6"/><path d="M750 935L800 905L850 915L900 905L945 935" fill="none" stroke="#f4f4f4" stroke-width="28" stroke-linecap="round" stroke-linejoin="round"/><ellipse cx="850" cy="870" rx="20" ry="18" fill="#8a8a8a"/><path d="M355 460L325 590M345 730L415 870M560 965L650 965M1290 365L1375 455M1385 620L1365 740M1135 960L1300 855" fill="none" stroke="#f4f4f4" stroke-width="27" stroke-linecap="round" stroke-linejoin="round"/><path d="M500 320L700 265M1030 265L1180 290" fill="none" stroke="#bcbcbc" stroke-width="22" stroke-linecap="round" stroke-linejoin="round"/><path d="M760 272L970 272" fill="none" stroke="#d8d8d8" stroke-width="34" stroke-linecap="round" stroke-linejoin="round"/><path d="M315 1020C500 1080 700 1105 850 1105C1050 1105 1250 1070 1375 1025" fill="none" stroke="#fff" stroke-width="12" stroke-linecap="round" stroke-linejoin="round"/><path d="M510 515L607.23 548.01" stroke="#f0182c" stroke-width="12" stroke-linecap="round" fill="none"/><path d="M672 570L568.54 579.23L607.23 548.01L595.55 499.69Z" fill="#f0182c"/></g></g>
<clipPath id="cc3"><rect x="357.1" y="853.7" width="231.9" height="174.7"/></clipPath><rect x="357.1" y="853.7" width="231.9" height="174.7" fill="#000"/><g clip-path="url(#cc3)"><g transform="translate(340 840) scale(0.15793)" filter="url(#ctb)"><path d="M860 165C780 148 650 148 560 175C430 215 350 330 320 470C290 560 220 620 170 700C130 780 160 850 260 910C400 990 600 1042 860 1042C1100 1042 1300 990 1440 910C1540 850 1560 780 1520 700C1470 620 1400 560 1380 470C1350 330 1280 215 1150 175C1060 148 940 148 860 165Z" fill="#2a2a2a" stroke="#5c5c5c" stroke-width="7"/><path d="M860 165C780 148 650 148 560 175C430 215 350 330 320 470C290 560 220 620 170 700C130 780 160 850 260 910C400 990 600 1042 860 1042C1100 1042 1300 990 1440 910C1540 850 1560 780 1520 700C1470 620 1400 560 1380 470C1350 330 1280 215 1150 175C1060 148 940 148 860 165Z" fill="#707070" transform="translate(855 620) scale(0.94 0.9) translate(-855 -620)"/><path d="M620 250C720 230 810 250 840 290C770 340 720 420 720 520C700 580 720 620 780 640C830 680 840 740 800 800C760 860 700 890 620 890C520 870 440 780 420 650C400 480 470 300 620 250Z" fill="#000"/><path d="M900 290C960 240 1080 240 1170 280C1290 350 1330 500 1320 650C1300 780 1220 870 1110 880C1030 880 960 850 930 800C1000 780 1020 700 990 650C1040 640 1060 620 1050 590C1040 520 1000 400 900 290Z" fill="#000"/><path d="M850 270C900 330 960 420 1000 500C1040 560 1060 610 1040 630C980 640 900 620 850 600C790 590 740 590 720 580C710 520 720 440 760 380C790 330 820 290 850 270Z" fill="#a0a0a0"/><ellipse cx="795" cy="400" rx="68" ry="70" fill="#f4f4f4"/><path d="M900 440C940 420 980 460 1010 520C1040 580 1050 620 1010 625C960 620 920 580 900 520C890 490 890 460 900 440Z" fill="#c4c4c4"/><ellipse cx="1000" cy="500" rx="18" ry="16" fill="#f4f4f4"/><ellipse cx="680" cy="580" rx="12" ry="12" fill="#f4f4f4"/><ellipse cx="880" cy="607" rx="38" ry="17" fill="#000"/><ellipse cx="800" cy="605" rx="22" ry="16" fill="#000"/><ellipse cx="942" cy="690" rx="55" ry="55" fill="#f4f4f4"/><ellipse cx="855" cy="770" rx="50" ry="60" fill="#e6e6e6"/><path d="M615 915L780 870L860 890L930 870L975 900" fill="none" stroke="#f4f4f4" stroke-width="30" stroke-linecap="round" stroke-linejoin="round"/><ellipse cx="860" cy="830" rx="22" ry="22" fill="#8a8a8a"/><path d="M295 745C340 790 420 800 530 915M1420 740C1400 800 1300 830 1180 940" fill="none" stroke="#f4f4f4" stroke-width="18" stroke-linecap="round" stroke-linejoin="round"/><path d="M445 395C480 330 530 290 590 262M1100 235L1210 290M1330 480C1345 550 1345 620 1335 680M440 730L530 860M1130 900L1240 830" fill="none" stroke="#f4f4f4" stroke-width="27" stroke-linecap="round" stroke-linejoin="round"/><path d="M820 220H940L930 258H830Z" fill="none" stroke="#f4f4f4" stroke-width="10" stroke-linecap="round" stroke-linejoin="round"/><path d="M160 965C400 1060 650 1125 860 1125C1100 1125 1350 1060 1575 975" fill="none" stroke="#e0e0e0" stroke-width="7" stroke-linecap="round" stroke-linejoin="round"/><path d="M160 965L380 1193M1575 1000L1380 1193" fill="none" stroke="#c8c8c8" stroke-width="4" stroke-linecap="round" stroke-linejoin="round"/><path d="M705 705L747.06 641.91" stroke="#f0182c" stroke-width="12" stroke-linecap="round" fill="none"/><path d="M785 585L767.25 687.34L747.06 641.91L697.36 640.75Z" fill="#f0182c"/></g></g>
<clipPath id="cc4"><rect x="624.8" y="854.7" width="220" height="174.8"/></clipPath><rect x="624.8" y="854.7" width="220" height="174.8" fill="#000"/><g clip-path="url(#cc4)"><g transform="translate(600 840) scale(0.15793)" filter="url(#ctb)"><path d="M850 185C780 160 650 150 560 180C430 220 330 330 270 450C220 540 190 600 195 680C200 780 260 860 380 920C520 985 700 1012 850 1012C1000 1012 1200 985 1340 920C1460 860 1520 780 1520 680C1520 600 1480 520 1430 430C1370 320 1280 220 1150 180C1060 150 930 160 850 185Z" fill="#2a2a2a" stroke="#5c5c5c" stroke-width="7"/><path d="M850 185C780 160 650 150 560 180C430 220 330 330 270 450C220 540 190 600 195 680C200 780 260 860 380 920C520 985 700 1012 850 1012C1000 1012 1200 985 1340 920C1460 860 1520 780 1520 680C1520 600 1480 520 1430 430C1370 320 1280 220 1150 180C1060 150 930 160 850 185Z" fill="#707070" transform="translate(855 610) scale(0.94 0.9) translate(-855 -610)"/><path d="M620 265C720 245 800 260 830 300C770 350 730 430 725 520C700 580 720 620 780 640C830 680 840 740 800 800C760 860 700 890 620 890C520 870 440 780 415 650C400 480 470 310 620 265Z" fill="#000"/><path d="M890 300C960 250 1070 250 1160 290C1280 360 1320 500 1310 650C1290 780 1210 880 1100 890C1020 890 950 860 920 810C990 790 1010 720 980 660C1030 650 1050 630 1040 600C1030 520 990 400 890 300Z" fill="#000"/><path d="M850 290C900 350 950 430 990 500C1030 560 1060 620 1030 645C970 640 900 620 850 600C800 590 750 590 730 570C720 520 730 450 770 390C800 340 820 310 850 290Z" fill="#a0a0a0"/><ellipse cx="800" cy="430" rx="68" ry="70" fill="#f4f4f4"/><path d="M880 470C920 420 960 450 990 510C1030 570 1060 620 1030 645C980 640 920 600 890 550C870 520 870 490 880 470Z" fill="#c8c8c8"/><ellipse cx="1000" cy="518" rx="18" ry="16" fill="#f4f4f4"/><path d="M590 515C640 540 690 545 740 540" fill="none" stroke="#d8d8d8" stroke-width="12" stroke-linecap="round" stroke-linejoin="round"/><ellipse cx="740" cy="515" rx="25" ry="18" fill="#f4f4f4"/><ellipse cx="875" cy="605" rx="36" ry="16" fill="#000"/><ellipse cx="930" cy="710" rx="52" ry="55" fill="#f4f4f4"/><ellipse cx="845" cy="790" rx="50" ry="58" fill="#e6e6e6"/><path d="M740 905L800 880L850 895L900 880L950 900" fill="none" stroke="#f4f4f4" stroke-width="28" stroke-linecap="round" stroke-linejoin="round"/><ellipse cx="848" cy="848" rx="22" ry="22" fill="#8a8a8a"/><path d="M475 365C510 320 560 290 610 270M1065 245L1190 300M1300 460C1320 520 1330 580 1330 630M410 660L490 850M280 610L330 700M575 915L640 920M1150 905L1250 830M1240 880L1400 780" fill="none" stroke="#f4f4f4" stroke-width="18" stroke-linecap="round" stroke-linejoin="round"/><path d="M820 235H940L930 272H830Z" fill="none" stroke="#f4f4f4" stroke-width="10" stroke-linecap="round" stroke-linejoin="round"/><path d="M340 1000C500 1070 700 1105 850 1105C1050 1105 1250 1080 1365 1035" fill="none" stroke="#fff" stroke-width="13" stroke-linecap="round" stroke-linejoin="round"/><path d="M728 705L767.4 645.14" stroke="#f0182c" stroke-width="12" stroke-linecap="round" fill="none"/><path d="M805 588L787.86 690.45L767.4 645.14L717.69 644.27Z" fill="#f0182c"/></g></g>
<clipPath id="cc5"><rect x="1264.2" y="660.7" width="219.5" height="175.1"/></clipPath><rect x="1264.2" y="660.7" width="219.5" height="175.1" fill="#000"/><g clip-path="url(#cc5)"><g transform="translate(1250 640) scale(0.15793)" filter="url(#ctg)"><path d="M790 290C720 260 640 215 540 215C400 215 260 300 210 430C170 540 170 620 150 700C120 780 130 850 200 900C350 1010 600 1087 800 1087C1000 1087 1250 1020 1380 930C1450 880 1450 800 1400 720C1370 620 1370 500 1300 400C1220 290 1100 240 980 240C900 240 850 270 790 290Z" fill="#303030" stroke="#606060" stroke-width="7"/><ellipse cx="785" cy="645" rx="485" ry="345" fill="#686868"/><path d="M200 700C260 660 320 700 330 780C380 880 460 960 600 1000C700 1030 900 1030 1000 1000C1120 960 1200 900 1250 800C1280 720 1340 700 1380 740C1420 820 1380 900 1300 950C1150 1030 950 1060 800 1060C600 1060 400 1000 250 900C190 850 170 760 200 700Z" fill="#808080"/><path d="M640 400C720 340 900 330 1000 360C1120 400 1210 520 1225 660C1230 800 1170 900 1060 950C960 980 860 940 820 880C800 800 780 740 740 720C680 730 600 720 580 680C560 640 580 600 600 560C600 500 610 440 640 400Z" fill="#8c8c8c"/><path d="M520 350C600 330 680 350 700 380C640 420 600 480 600 550C560 600 560 680 600 700C680 730 740 720 745 760C740 820 700 900 560 925C450 920 370 820 350 700C330 560 400 400 520 350Z" fill="#000"/><path d="M960 690C990 620 1080 580 1130 600C1140 640 1130 700 1090 720C1040 740 980 730 960 690Z" fill="#000"/><ellipse cx="850" cy="655" rx="35" ry="20" fill="#000" transform="rotate(-25 850 655)"/><ellipse cx="695" cy="695" rx="26" ry="15" fill="#000"/><ellipse cx="925" cy="605" rx="10" ry="16" fill="#000"/><path d="M440 600L550 605" fill="none" stroke="#ccc" stroke-width="8" stroke-linecap="round" stroke-linejoin="round"/><ellipse cx="770" cy="810" rx="45" ry="55" fill="#f4f4f4"/><path d="M680 935L740 915L770 925L820 915L860 940" fill="none" stroke="#f4f4f4" stroke-width="30" stroke-linecap="round" stroke-linejoin="round"/><ellipse cx="772" cy="880" rx="24" ry="20" fill="#8a8a8a"/><path d="M770 960V1000" fill="none" stroke="#f4f4f4" stroke-width="16" stroke-linecap="round" stroke-linejoin="round"/><path d="M360 490C345 530 338 570 335 610M355 770L380 850M255 790L330 850L440 955M470 935L560 965M1030 380C1070 400 1110 430 1140 470M1220 625L1225 710M1200 790L1170 870M1000 970L1110 925M1070 990C1150 960 1230 910 1280 855" fill="none" stroke="#f4f4f4" stroke-width="27" stroke-linecap="round" stroke-linejoin="round"/><path d="M520 330C600 310 680 320 740 350M860 350C900 330 960 330 1000 345" fill="none" stroke="#c8c8c8" stroke-width="20" stroke-linecap="round" stroke-linejoin="round"/><path d="M750 350H850L840 378H760Z" fill="none" stroke="#f4f4f4" stroke-width="10" stroke-linecap="round" stroke-linejoin="round"/><path d="M115 1030C350 1120 600 1175 800 1175C1000 1175 1250 1130 1445 1065" fill="none" stroke="#e0e0e0" stroke-width="7" stroke-linecap="round" stroke-linejoin="round"/><path d="M115 1075L280 1240M1450 1160L1375 1240" fill="none" stroke="#c8c8c8" stroke-width="4" stroke-linecap="round" stroke-linejoin="round"/><path d="M1250 368L1182.33 438.62" stroke="#f0182c" stroke-width="12" stroke-linecap="round" fill="none"/><path d="M1135 488L1170.41 390.35L1182.33 438.62L1231.05 448.47Z" fill="#f0182c"/></g></g>
<clipPath id="cc6"><rect x="1528.1" y="660.7" width="219.2" height="175.1"/></clipPath><rect x="1528.1" y="660.7" width="219.2" height="175.1" fill="#000"/><g clip-path="url(#cc6)"><g transform="translate(1493 640) scale(0.15793)" filter="url(#ctg)"><path d="M930 270C860 240 780 205 680 205C540 205 400 280 330 380C280 460 290 560 260 640C230 720 250 800 300 860C400 980 700 1077 930 1077C1150 1077 1400 1000 1500 900C1570 830 1570 760 1530 680C1500 600 1530 500 1480 400C1420 300 1300 230 1160 230C1060 230 990 250 930 270Z" fill="#303030" stroke="#606060" stroke-width="7"/><ellipse cx="910" cy="640" rx="505" ry="345" fill="#747474"/><path d="M300 660C360 620 420 680 430 760C480 860 560 940 700 980C800 1010 1000 1010 1100 980C1220 940 1320 880 1370 780C1400 700 1460 680 1500 720C1540 800 1500 880 1420 930C1270 1010 1070 1045 930 1045C730 1045 530 990 380 880C310 820 280 720 300 660Z" fill="#848484"/><path d="M950 370C1050 340 1200 350 1290 440C1370 530 1390 680 1350 800C1300 900 1200 950 1100 955C1020 950 970 900 950 840C960 780 960 720 930 690C960 640 1000 600 1000 560C990 500 960 430 950 370Z" fill="#7a7a7a"/><path d="M960 400C1040 400 1130 450 1160 540C1180 620 1150 700 1080 740C1030 720 980 690 960 660C990 620 1000 580 995 540C990 490 970 440 960 400Z" fill="#8e8e8e"/><path d="M650 325C560 350 470 450 455 600C440 740 520 860 640 895C740 900 820 840 835 740C800 720 720 720 690 700C640 660 640 560 660 480C660 420 670 360 650 325Z" fill="#000"/><path d="M680 340C760 320 860 350 930 380C960 450 1000 540 990 590C950 650 880 680 840 720C780 720 700 700 660 660C640 560 650 440 680 340Z" fill="#8a8a8a"/><ellipse cx="760" cy="495" rx="70" ry="72" fill="#f4f4f4"/><ellipse cx="870" cy="455" rx="66" ry="82" fill="#f4f4f4" transform="rotate(-15 870 455)"/><path d="M660 600C700 560 800 560 870 540C900 580 860 640 800 670C760 690 720 710 690 700C660 680 650 640 660 600Z" fill="#f4f4f4"/><path d="M610 570L635 620" fill="none" stroke="#f4f4f4" stroke-width="12" stroke-linecap="round" stroke-linejoin="round"/><ellipse cx="930" cy="610" rx="28" ry="12" fill="#000" transform="rotate(-35 930 610)"/><ellipse cx="795" cy="680" rx="28" ry="13" fill="#000" transform="rotate(-15 795 680)"/><ellipse cx="978" cy="600" rx="14" ry="14" fill="#f4f4f4"/><ellipse cx="908" cy="705" rx="38" ry="38" fill="#f4f4f4"/><ellipse cx="890" cy="800" rx="50" ry="52" fill="#f4f4f4"/><path d="M790 935L850 915L890 925L940 915L985 940" fill="none" stroke="#f4f4f4" stroke-width="30" stroke-linecap="round" stroke-linejoin="round"/><ellipse cx="890" cy="880" rx="24" ry="20" fill="#8a8a8a"/><path d="M885 960V995" fill="none" stroke="#f4f4f4" stroke-width="16" stroke-linecap="round" stroke-linejoin="round"/><path d="M480 420C460 470 450 520 445 560M450 740L490 830M345 715L400 790L520 920M560 910L680 950M1350 550C1370 600 1380 640 1380 680M1340 790L1300 880M1080 965L1250 910M1250 960C1320 920 1390 870 1430 820" fill="none" stroke="#f4f4f4" stroke-width="27" stroke-linecap="round" stroke-linejoin="round"/><path d="M690 305C760 300 820 315 870 335M1000 335C1080 330 1160 340 1230 380" fill="none" stroke="#c8c8c8" stroke-width="18" stroke-linecap="round" stroke-linejoin="round"/><path d="M885 330H985L975 355H895Z" fill="none" stroke="#f4f4f4" stroke-width="10" stroke-linecap="round" stroke-linejoin="round"/><path d="M235 1025C500 1110 750 1155 930 1155C1150 1155 1400 1110 1580 1050" fill="none" stroke="#e0e0e0" stroke-width="7" stroke-linecap="round" stroke-linejoin="round"/><path d="M235 1085L390 1230M1580 1150L1490 1235" fill="none" stroke="#c8c8c8" stroke-width="4" stroke-linecap="round" stroke-linejoin="round"/><path d="M1385 348L1317.95 416.22" stroke="#f0182c" stroke-width="12" stroke-linecap="round" fill="none"/><path d="M1270 465L1306.64 367.81L1317.95 416.22L1366.55 426.69Z" fill="#f0182c"/></g></g>
<clipPath id="cc7"><rect x="1264.2" y="853.9" width="223.8" height="174.8"/></clipPath><rect x="1264.2" y="853.9" width="223.8" height="174.8" fill="#000"/><g clip-path="url(#cc7)"><g transform="translate(1250 840) scale(0.15793)" filter="url(#ctg)"><path d="M810 180C740 150 650 125 540 125C400 125 250 200 180 320C130 420 140 540 160 640C190 780 280 880 420 950C560 1015 700 1042 810 1042C950 1042 1150 1010 1280 930C1400 850 1450 700 1450 560C1450 420 1400 300 1300 220C1200 150 1080 140 980 150C900 155 860 170 810 180Z" fill="#303030" stroke="#606060" stroke-width="7"/><path d="M810 180C740 150 650 125 540 125C400 125 250 200 180 320C130 420 140 540 160 640C190 780 280 880 420 950C560 1015 700 1042 810 1042C950 1042 1150 1010 1280 930C1400 850 1450 700 1450 560C1450 420 1400 300 1300 220C1200 150 1080 140 980 150C900 155 860 170 810 180Z" fill="#6a6a6a" transform="translate(800 590) scale(0.9 0.88) translate(-800 -590)"/><ellipse cx="800" cy="590" rx="530" ry="360" fill="#7c7c7c"/><path d="M560 245C450 270 340 400 315 560C300 700 400 850 540 880C640 880 720 820 725 740C740 700 760 660 740 640C680 600 580 580 545 500C520 420 560 330 640 290C620 260 590 245 560 245Z" fill="#000"/><path d="M560 330C640 280 800 290 900 320C960 360 980 440 950 520C900 590 820 620 740 620C660 600 580 560 550 480C535 420 540 370 560 330Z" fill="#888"/><path d="M560 330C640 280 800 290 900 320C960 360 980 440 950 520C900 590 820 620 740 620" fill="none" stroke="#5c5c5c" stroke-width="10" stroke-linecap="round" stroke-linejoin="round"/><ellipse cx="790" cy="750" rx="56" ry="56" fill="#f4f4f4"/><path d="M715 855L770 800M810 800L860 850L940 885" fill="none" stroke="#f4f4f4" stroke-width="20" stroke-linecap="round" stroke-linejoin="round"/><path d="M740 860C770 840 810 840 850 860L800 895Z" fill="none" stroke="#f4f4f4" stroke-width="12" stroke-linecap="round" stroke-linejoin="round"/><ellipse cx="795" cy="830" rx="26" ry="18" fill="#8a8a8a"/><ellipse cx="792" cy="935" rx="12" ry="20" fill="#f4f4f4"/><path d="M350 370L430 295M300 520V575M320 690L345 780M440 885L540 930M1225 390L1265 455M1290 530L1300 590M1285 660L1265 730M1105 910L1215 810" fill="none" stroke="#f4f4f4" stroke-width="27" stroke-linecap="round" stroke-linejoin="round"/><path d="M510 650L560 690L620 700L660 690M600 740H610" fill="none" stroke="#aaa" stroke-width="16" stroke-linecap="round" stroke-linejoin="round"/><path d="M770 255H850V285H770Z" fill="none" stroke="#f4f4f4" stroke-width="12" stroke-linecap="round" stroke-linejoin="round"/><ellipse cx="720" cy="262" rx="22" ry="22" fill="#b8b8b8"/><ellipse cx="900" cy="265" rx="22" ry="22" fill="#b8b8b8"/><path d="M90 990C350 1080 600 1135 800 1135C1050 1135 1300 1080 1507 1020" fill="none" stroke="#e0e0e0" stroke-width="7" stroke-linecap="round" stroke-linejoin="round"/><path d="M90 960L200 1000M90 1040L260 1195M1507 1120L1420 1195" fill="none" stroke="#c8c8c8" stroke-width="4" stroke-linecap="round" stroke-linejoin="round"/><path d="M472 592L513.58 525.9" stroke="#f0182c" stroke-width="12" stroke-linecap="round" fill="none"/><path d="M550 468L534.97 570.78L513.58 525.9L463.87 526.05Z" fill="#f0182c"/></g></g>
<clipPath id="cc8"><rect x="1524.6" y="853.9" width="223.9" height="174.8"/></clipPath><rect x="1524.6" y="853.9" width="223.9" height="174.8" fill="#000"/><g clip-path="url(#cc8)"><g transform="translate(1493 840) scale(0.15793)" filter="url(#ctg)"><path d="M910 195C840 170 760 150 660 150C500 150 340 230 280 330C240 400 270 500 280 600C300 740 380 850 520 920C660 990 800 1032 910 1032C1050 1032 1250 1000 1380 910C1500 830 1540 700 1540 580C1540 480 1580 400 1540 330C1480 230 1350 170 1200 170C1080 170 980 180 910 195Z" fill="#303030" stroke="#606060" stroke-width="7"/><path d="M330 400C340 330 420 260 520 240M1500 390C1470 310 1400 260 1300 250" fill="none" stroke="#707070" stroke-width="50" stroke-linecap="round" stroke-linejoin="round"/><path d="M910 195C840 170 760 150 660 150C500 150 340 230 280 330C240 400 270 500 280 600C300 740 380 850 520 920C660 990 800 1032 910 1032C1050 1032 1250 1000 1380 910C1500 830 1540 700 1540 580C1540 480 1580 400 1540 330C1480 230 1350 170 1200 170C1080 170 980 180 910 195Z" fill="#6e6e6e" transform="translate(905 590) scale(0.9 0.87) translate(-905 -590)"/><ellipse cx="905" cy="580" rx="510" ry="345" fill="#808080"/><path d="M920 290C1020 250 1180 260 1290 340C1390 420 1420 560 1400 690C1370 810 1280 900 1170 910C1080 910 1000 860 960 800C950 740 950 680 920 650C940 600 950 540 940 480C930 420 920 350 920 290Z" fill="#7c7c7c"/><path d="M950 320C1020 290 1120 300 1170 330C1150 400 1120 480 1080 540C1050 600 1000 640 940 640C930 560 940 420 950 320Z" fill="#8c8c8c"/><path d="M600 285C500 320 420 450 412 580C420 720 500 830 620 855C720 860 800 800 815 700C800 650 760 630 700 610C620 590 560 540 545 460C540 380 580 320 600 285Z" fill="#000"/><path d="M560 300C600 270 680 270 740 300L700 340C640 330 600 380 590 440L620 500L580 520C540 460 530 360 560 300Z" fill="#787878"/><path d="M640 380C700 310 820 300 890 340C930 400 930 500 890 560C850 610 790 620 740 600C680 580 630 540 615 480C610 440 620 400 640 380Z" fill="#f4f4f4"/><path d="M780 450L750 510" fill="none" stroke="#444" stroke-width="14" stroke-linecap="round" stroke-linejoin="round"/><ellipse cx="885" cy="655" rx="36" ry="36" fill="#f4f4f4"/><ellipse cx="890" cy="765" rx="60" ry="52" fill="#f4f4f4"/><path d="M780 900L840 850M940 850L1000 900" fill="none" stroke="#f4f4f4" stroke-width="20" stroke-linecap="round" stroke-linejoin="round"/><path d="M840 860C870 840 910 840 940 860L890 890Z" fill="none" stroke="#f4f4f4" stroke-width="10" stroke-linecap="round" stroke-linejoin="round"/><ellipse cx="888" cy="835" rx="30" ry="18" fill="#8a8a8a"/><ellipse cx="885" cy="930" rx="12" ry="22" fill="#f4f4f4"/><path d="M630 640L650 650M690 690L740 670L770 680M660 715L690 710" fill="none" stroke="#f4f4f4" stroke-width="24" stroke-linecap="round" stroke-linejoin="round"/><path d="M400 520V600M415 690L450 780M540 880L650 915M470 370L540 300M1340 395L1375 455M1405 550V610M1385 690L1360 760M1150 925L1285 860" fill="none" stroke="#f4f4f4" stroke-width="27" stroke-linecap="round" stroke-linejoin="round"/><path d="M885 262H970V292H885Z" fill="none" stroke="#f4f4f4" stroke-width="12" stroke-linecap="round" stroke-linejoin="round"/><path d="M200 985C450 1060 700 1105 910 1105C1150 1105 1400 1060 1600 1005" fill="none" stroke="#e0e0e0" stroke-width="7" stroke-linecap="round" stroke-linejoin="round"/><path d="M210 1040L380 1195M1600 1100L1500 1190" fill="none" stroke="#c8c8c8" stroke-width="4" stroke-linecap="round" stroke-linejoin="round"/><path d="M535 615L574.39 550.4" stroke="#f0182c" stroke-width="12" stroke-linecap="round" fill="none"/><path d="M610 492L596.4 594.98L574.39 550.4L524.68 551.25Z" fill="#f0182c"/></g></g>
<text x="-1.5" y="1176" font-size="47" font-weight="bold">d</text>
<rect x="215.2" y="1374.6" width="15.3" height="135" fill="#ff0000"/>
<rect x="242.2" y="1374.6" width="15.3" height="135" fill="#ff0000"/>
<rect x="269.2" y="1401.6" width="15.3" height="108" fill="#ff0000"/>
<rect x="296.2" y="1401.6" width="15.3" height="108" fill="#ff0000"/>
<rect x="323.2" y="1415.1" width="15.3" height="94.5" fill="#ff0000"/>
<rect x="350.2" y="1428.6" width="15.3" height="81" fill="#ff0000"/>
<rect x="377.2" y="1428.6" width="15.3" height="81" fill="#ff0000"/>
<rect x="404.2" y="1442.1" width="15.3" height="67.5" fill="#ff0000"/>
<rect x="431.2" y="1482.6" width="15.3" height="27" fill="#0000cc"/>
<rect x="458.2" y="1509.6" width="15.3" height="27" fill="#0000cc"/>
<rect x="485.2" y="1509.6" width="15.3" height="40.5" fill="#0000cc"/>
<rect x="512.2" y="1509.6" width="15.3" height="40.5" fill="#0000cc"/>
<rect x="539.2" y="1509.6" width="15.3" height="48.6" fill="#0000cc"/>
<rect x="566.2" y="1509.6" width="15.3" height="94.5" fill="#008000"/>
<rect x="593.2" y="1509.6" width="15.3" height="108" fill="#008000"/>
<rect x="620.2" y="1509.6" width="15.3" height="216" fill="#008000"/>
<rect x="705.6" y="1239.6" width="15.3" height="270" fill="#ff0000"/>
<rect x="732.6" y="1374.6" width="15.3" height="135" fill="#ff0000"/>
<rect x="759.6" y="1374.6" width="15.3" height="135" fill="#ff0000"/>
<rect x="786.6" y="1442.1" width="15.3" height="67.5" fill="#ff0000"/>
<rect x="813.6" y="1442.1" width="15.3" height="67.5" fill="#ff0000"/>
<rect x="840.6" y="1509.6" width="15.3" height="40.5" fill="#0000cc"/>
<path d="M208.6 1455.6H868" stroke="#000" stroke-width="1.8" stroke-dasharray="10.5 5.2" fill="none"/>
<path d="M208.6 1590.6H868" stroke="#000" stroke-width="1.8" stroke-dasharray="10.5 5.2" fill="none"/>
<path d="M208.6 1238.8V1780.4M208.6 1779.6h-10M208.6 1725.6h-10M208.6 1671.6h-10M208.6 1617.6h-10M208.6 1563.6h-10M208.6 1509.6h-10M208.6 1455.6h-10M208.6 1401.6h-10M208.6 1347.6h-10M208.6 1293.6h-10M208.6 1239.6h-10M208.6 1509.6H872.6" stroke="#000" stroke-width="2" fill="none"/>
<path d="M218.3 1230H634.5M709.6 1230.5H880.7" stroke="#000" stroke-width="1.9" fill="none"/>
<text x="189.5" y="1794.6" font-size="29" text-anchor="end">-100</text>
<text x="189.5" y="1740.6" font-size="29" text-anchor="end">-80</text>
<text x="189.5" y="1686.6" font-size="29" text-anchor="end">-60</text>
<text x="189.5" y="1632.6" font-size="29" text-anchor="end">-40</text>
<text x="189.5" y="1578.6" font-size="29" text-anchor="end">-20</text>
<text x="189.5" y="1524.6" font-size="29" text-anchor="end">0</text>
<text x="189.5" y="1470.6" font-size="29" text-anchor="end">20</text>
<text x="189.5" y="1416.6" font-size="29" text-anchor="end">40</text>
<text x="189.5" y="1362.6" font-size="29" text-anchor="end">60</text>
<text x="189.5" y="1308.6" font-size="29" text-anchor="end">80</text>
<text x="189.5" y="1254.6" font-size="29" text-anchor="end">100</text>
<text x="598.5" y="1163.5" text-anchor="middle" textLength="240.6" lengthAdjust="spacingAndGlyphs">anti-PD1 response</text>
<text x="434.5" y="1214.2" font-size="29" text-anchor="middle">UBA6 low</text>
<text x="794" y="1214.2" font-size="29" text-anchor="middle">UBA6 high</text>
<text transform="translate(95.5 1504.8) rotate(-90)" text-anchor="middle">Change in target lesions</text>
<text transform="translate(132.5 1504.8) rotate(-90)" text-anchor="middle">from baseline (%)</text>
<rect x="238.6" y="1704.6" width="27" height="12" fill="#ff0000"/>
<text x="276" y="1716.8">PD</text>
<rect x="238.6" y="1736.5" width="27" height="12" fill="#0000cc"/>
<text x="276" y="1752.3">SD</text>
<rect x="238.6" y="1771" width="27" height="12" fill="#008000"/>
<text x="276" y="1788.8">PR</text>
<text x="1134.5" y="1175.3" font-size="48" font-weight="bold">e</text>
<rect x="1286.5" y="1189" width="32" height="15" fill="#ff8000" stroke="#000" stroke-width="2"/>
<rect x="1286.5" y="1236" width="32" height="15" fill="#ffe0c4" stroke="#000" stroke-width="2"/>
<text x="1327" y="1206.5" textLength="198" lengthAdjust="spacingAndGlyphs">ICB Responder</text>
<text x="1327" y="1249.2" textLength="259" lengthAdjust="spacingAndGlyphs">ICB Non-Responder</text>
<circle cx="1318.8" cy="1476.8" r="103" fill="#ffe0c4"/><path d="M1318.8 1476.8V1373.8A103 103 0 0 1 1318.8 1579.8Z" fill="#ff8000" stroke="#fff" stroke-width="1.6" stroke-linejoin="round"/><circle cx="1318.8" cy="1476.8" r="103" fill="none" stroke="#000" stroke-width="2.1"/>
<circle cx="1603.3" cy="1484" r="103.2" fill="#ffe0c4"/><path d="M1603.3 1484V1380.8A103.2 103.2 0 0 1 1692.67 1432.4Z" fill="#ff8000" stroke="#fff" stroke-width="1.6" stroke-linejoin="round"/><circle cx="1603.3" cy="1484" r="103.2" fill="none" stroke="#000" stroke-width="2.1"/>
<text x="1322.4" y="1325.9" text-anchor="middle">UBA6</text>
<text x="1318.8" y="1360.8" text-anchor="middle">Low</text>
<text x="1608.9" y="1322" text-anchor="middle">UBA6</text>
<text x="1608.5" y="1356.9" text-anchor="middle">High</text>
<text x="1273.8" y="1473.1" text-anchor="middle">50%</text>
<text x="1271.5" y="1501" text-anchor="middle">(8/16)</text>
<text x="1369.7" y="1473.1" text-anchor="middle">50%</text>
<text x="1370.5" y="1501" text-anchor="middle">(8/16)</text>
<text x="1640.7" y="1424.3" text-anchor="middle">17%</text>
<text x="1636.6" y="1450.6" text-anchor="middle">(1/6)</text>
<text x="1589.8" y="1515.7" text-anchor="middle">83%</text>
<text x="1589.8" y="1542.5" text-anchor="middle">(5/6)</text>
</svg>
</body></html>
